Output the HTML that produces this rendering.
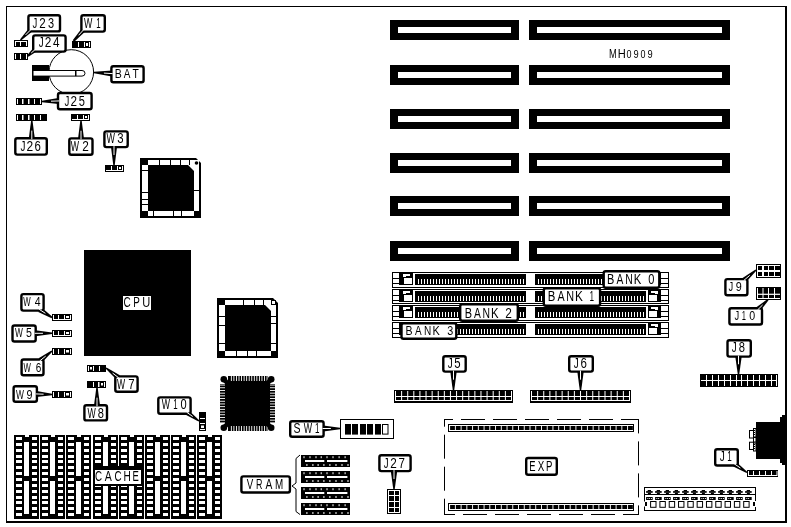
<!DOCTYPE html>
<html><head><meta charset="utf-8"><style>
html,body{margin:0;padding:0;background:#fff;overflow:hidden;width:791px;height:527px;}
svg{display:block;font-family:"Liberation Sans", sans-serif;will-change:transform;}
</style></head><body>
<svg width="791" height="527" viewBox="0 0 791 527">
<rect width="791" height="527" fill="#fff"/>
<rect x="6" y="6" width="781" height="1" fill="#000"/>
<rect x="6" y="6" width="1" height="517" fill="#000"/>
<rect x="785" y="6" width="2" height="517" fill="#000"/>
<rect x="6" y="521" width="781" height="2" fill="#000"/>
<rect x="390" y="20" width="129" height="20" fill="#000"/>
<rect x="398" y="27" width="113" height="6" fill="#fff"/>
<rect x="529" y="20" width="201" height="20" fill="#000"/>
<rect x="537" y="27" width="185" height="6" fill="#fff"/>
<rect x="390" y="65" width="129" height="20" fill="#000"/>
<rect x="398" y="72" width="113" height="6" fill="#fff"/>
<rect x="529" y="65" width="201" height="20" fill="#000"/>
<rect x="537" y="72" width="185" height="6" fill="#fff"/>
<rect x="390" y="109" width="129" height="20" fill="#000"/>
<rect x="398" y="116" width="113" height="6" fill="#fff"/>
<rect x="529" y="109" width="201" height="20" fill="#000"/>
<rect x="537" y="116" width="185" height="6" fill="#fff"/>
<rect x="390" y="153" width="129" height="20" fill="#000"/>
<rect x="398" y="160" width="113" height="6" fill="#fff"/>
<rect x="529" y="153" width="201" height="20" fill="#000"/>
<rect x="537" y="160" width="185" height="6" fill="#fff"/>
<rect x="390" y="196" width="129" height="20" fill="#000"/>
<rect x="398" y="203" width="113" height="6" fill="#fff"/>
<rect x="529" y="196" width="201" height="20" fill="#000"/>
<rect x="537" y="203" width="185" height="6" fill="#fff"/>
<rect x="390" y="241" width="129" height="20" fill="#000"/>
<rect x="398" y="248" width="113" height="6" fill="#fff"/>
<rect x="529" y="241" width="201" height="20" fill="#000"/>
<rect x="537" y="248" width="185" height="6" fill="#fff"/>
<text transform="translate(608.94,57.8) scale(0.7414530639959265,1)" font-size="12.5" fill="#000">M</text><text transform="translate(617.79,57.8) scale(0.8879289315335833,1)" font-size="12.5" fill="#000">H</text>
<text transform="translate(626.549,57.8) scale(0.8716425211123746,1)" font-size="10.32" fill="#000">0</text><text transform="translate(633.464,57.8) scale(0.902048655569783,1)" font-size="10.32" fill="#000">9</text><text transform="translate(640.549,57.8) scale(0.8716425211123746,1)" font-size="10.32" fill="#000">0</text><text transform="translate(647.464,57.8) scale(0.902048655569783,1)" font-size="10.32" fill="#000">9</text>
<circle cx="71.3" cy="72" r="22.3" fill="#fff" stroke="#000" stroke-width="1"/>
<rect x="32" y="65" width="17" height="16" fill="#000"/>
<path d="M33 70.5 H82 A3 2.8 0 0 1 82 76.1 H33 Z" fill="#fff" stroke="#000" stroke-width="1"/>
<rect x="75" y="70.5" width="1.5" height="5.6" fill="#000"/>
<rect x="84" y="250" width="107" height="106" fill="#000"/>
<rect x="123" y="296" width="28" height="14" fill="#fff"/>
<text transform="translate(123.494,307) scale(0.6719710036642847,1)" font-size="14.826" fill="#000">C</text><text transform="translate(133.261,307) scale(0.666319871370472,1)" font-size="14.826" fill="#000">P</text><text transform="translate(142.234,307) scale(0.7493950058061714,1)" font-size="14.826" fill="#000">U</text>
<polygon points="140,158 196,158 201,163 201,218 140,218" fill="#000"/>
<rect x="142" y="160" width="57" height="56" fill="#fff"/>
<polygon points="148,165 188,165 194,171 194,211 148,211" fill="#000"/>
<rect x="140" y="158" width="8" height="7" fill="#000"/>
<rect x="140" y="211" width="8" height="7" fill="#000"/>
<rect x="194" y="211" width="7" height="7" fill="#000"/>
<rect x="159" y="160" width="1" height="5" fill="#000"/>
<rect x="170" y="160" width="1" height="5" fill="#000"/>
<rect x="180" y="160" width="1" height="5" fill="#000"/>
<rect x="189" y="160" width="1" height="5" fill="#000"/>
<rect x="153" y="211" width="1" height="5" fill="#000"/>
<rect x="173" y="211" width="1" height="5" fill="#000"/>
<rect x="181" y="211" width="1" height="5" fill="#000"/>
<rect x="142" y="170" width="6" height="1" fill="#000"/>
<rect x="142" y="192" width="6" height="1" fill="#000"/>
<rect x="142" y="199" width="6" height="1" fill="#000"/>
<rect x="142" y="204" width="6" height="1" fill="#000"/>
<rect x="194" y="190" width="5" height="1" fill="#000"/>
<circle cx="196.5" cy="163" r="1.8" fill="#000"/>
<polygon points="217,298 273,298 278,303 278,358 217,358" fill="#000"/>
<rect x="219" y="300" width="57" height="56" fill="#fff"/>
<polygon points="225,305 265,305 271,311 271,351 225,351" fill="#000"/>
<rect x="217" y="298" width="8" height="7" fill="#000"/>
<rect x="217" y="351" width="8" height="7" fill="#000"/>
<rect x="271" y="351" width="7" height="7" fill="#000"/>
<rect x="243" y="300" width="1" height="5" fill="#000"/>
<rect x="254" y="300" width="1" height="5" fill="#000"/>
<rect x="263" y="300" width="1" height="5" fill="#000"/>
<rect x="236" y="351" width="1" height="5" fill="#000"/>
<rect x="247" y="351" width="1" height="5" fill="#000"/>
<rect x="256" y="351" width="1" height="5" fill="#000"/>
<rect x="219" y="316" width="6" height="1" fill="#000"/>
<rect x="219" y="325" width="6" height="1" fill="#000"/>
<rect x="219" y="343" width="6" height="1" fill="#000"/>
<rect x="271" y="316" width="5" height="1" fill="#000"/>
<rect x="271" y="323" width="5" height="1" fill="#000"/>
<rect x="271" y="343" width="5" height="1" fill="#000"/>
<rect x="271.5" y="300.5" width="4" height="4" fill="none" stroke="#000" stroke-width="1"/>
<rect x="225" y="381" width="45" height="45" fill="#000"/>
<rect x="228" y="376" width="40" height="5" fill="#000"/>
<rect x="228" y="426" width="40" height="5" fill="#000"/>
<rect x="220" y="384" width="5" height="39" fill="#000"/>
<rect x="270" y="384" width="5" height="39" fill="#000"/>
<rect x="230.9" y="376" width="0.9" height="5" fill="#fff"/>
<rect x="230.9" y="426" width="0.9" height="5" fill="#fff"/>
<rect x="233.45" y="376" width="0.9" height="5" fill="#fff"/>
<rect x="233.45" y="426" width="0.9" height="5" fill="#fff"/>
<rect x="236.0" y="376" width="0.9" height="5" fill="#fff"/>
<rect x="236.0" y="426" width="0.9" height="5" fill="#fff"/>
<rect x="238.55" y="376" width="0.9" height="5" fill="#fff"/>
<rect x="238.55" y="426" width="0.9" height="5" fill="#fff"/>
<rect x="241.1" y="376" width="0.9" height="5" fill="#fff"/>
<rect x="241.1" y="426" width="0.9" height="5" fill="#fff"/>
<rect x="243.65" y="376" width="0.9" height="5" fill="#fff"/>
<rect x="243.65" y="426" width="0.9" height="5" fill="#fff"/>
<rect x="246.2" y="376" width="0.9" height="5" fill="#fff"/>
<rect x="246.2" y="426" width="0.9" height="5" fill="#fff"/>
<rect x="248.75" y="376" width="0.9" height="5" fill="#fff"/>
<rect x="248.75" y="426" width="0.9" height="5" fill="#fff"/>
<rect x="251.3" y="376" width="0.9" height="5" fill="#fff"/>
<rect x="251.3" y="426" width="0.9" height="5" fill="#fff"/>
<rect x="253.85" y="376" width="0.9" height="5" fill="#fff"/>
<rect x="253.85" y="426" width="0.9" height="5" fill="#fff"/>
<rect x="256.4" y="376" width="0.9" height="5" fill="#fff"/>
<rect x="256.4" y="426" width="0.9" height="5" fill="#fff"/>
<rect x="258.95" y="376" width="0.9" height="5" fill="#fff"/>
<rect x="258.95" y="426" width="0.9" height="5" fill="#fff"/>
<rect x="261.5" y="376" width="0.9" height="5" fill="#fff"/>
<rect x="261.5" y="426" width="0.9" height="5" fill="#fff"/>
<rect x="264.05" y="376" width="0.9" height="5" fill="#fff"/>
<rect x="264.05" y="426" width="0.9" height="5" fill="#fff"/>
<rect x="266.6" y="376" width="0.9" height="5" fill="#fff"/>
<rect x="266.6" y="426" width="0.9" height="5" fill="#fff"/>
<rect x="220" y="384.6" width="5" height="0.9" fill="#fff"/>
<rect x="270" y="384.6" width="5" height="0.9" fill="#fff"/>
<rect x="220" y="387.3" width="5" height="0.9" fill="#fff"/>
<rect x="270" y="387.3" width="5" height="0.9" fill="#fff"/>
<rect x="220" y="390.0" width="5" height="0.9" fill="#fff"/>
<rect x="270" y="390.0" width="5" height="0.9" fill="#fff"/>
<rect x="220" y="392.7" width="5" height="0.9" fill="#fff"/>
<rect x="270" y="392.7" width="5" height="0.9" fill="#fff"/>
<rect x="220" y="395.4" width="5" height="0.9" fill="#fff"/>
<rect x="270" y="395.4" width="5" height="0.9" fill="#fff"/>
<rect x="220" y="398.1" width="5" height="0.9" fill="#fff"/>
<rect x="270" y="398.1" width="5" height="0.9" fill="#fff"/>
<rect x="220" y="400.8" width="5" height="0.9" fill="#fff"/>
<rect x="270" y="400.8" width="5" height="0.9" fill="#fff"/>
<rect x="220" y="403.5" width="5" height="0.9" fill="#fff"/>
<rect x="270" y="403.5" width="5" height="0.9" fill="#fff"/>
<rect x="220" y="406.2" width="5" height="0.9" fill="#fff"/>
<rect x="270" y="406.2" width="5" height="0.9" fill="#fff"/>
<rect x="220" y="408.9" width="5" height="0.9" fill="#fff"/>
<rect x="270" y="408.9" width="5" height="0.9" fill="#fff"/>
<rect x="220" y="411.6" width="5" height="0.9" fill="#fff"/>
<rect x="270" y="411.6" width="5" height="0.9" fill="#fff"/>
<rect x="220" y="414.3" width="5" height="0.9" fill="#fff"/>
<rect x="270" y="414.3" width="5" height="0.9" fill="#fff"/>
<rect x="220" y="417.0" width="5" height="0.9" fill="#fff"/>
<rect x="270" y="417.0" width="5" height="0.9" fill="#fff"/>
<rect x="220" y="419.7" width="5" height="0.9" fill="#fff"/>
<rect x="270" y="419.7" width="5" height="0.9" fill="#fff"/>
<rect x="220" y="422.4" width="5" height="0.9" fill="#fff"/>
<rect x="270" y="422.4" width="5" height="0.9" fill="#fff"/>
<circle cx="223.8" cy="379.3" r="3.3" fill="#000"/>
<line x1="223.8" y1="379.3" x2="228.8" y2="384.3" stroke="#000" stroke-width="4.5"/>
<circle cx="271.2" cy="379.3" r="3.3" fill="#000"/>
<line x1="271.2" y1="379.3" x2="266.2" y2="384.3" stroke="#000" stroke-width="4.5"/>
<circle cx="223.8" cy="427.7" r="3.3" fill="#000"/>
<line x1="223.8" y1="427.7" x2="228.8" y2="422.7" stroke="#000" stroke-width="4.5"/>
<circle cx="271.2" cy="427.7" r="3.3" fill="#000"/>
<line x1="271.2" y1="427.7" x2="266.2" y2="422.7" stroke="#000" stroke-width="4.5"/>
<rect x="14" y="435" width="25" height="84" fill="#000"/>
<rect x="24" y="442" width="5" height="34" fill="#fff"/>
<rect x="24" y="481" width="5" height="33" fill="#fff"/>
<rect x="25" y="435" width="4" height="2" fill="#fff"/>
<rect x="16" y="437" width="6" height="3" fill="#fff"/>
<rect x="32" y="437" width="5" height="3" fill="#fff"/>
<rect x="16" y="443" width="6" height="3" fill="#fff"/>
<rect x="32" y="443" width="5" height="3" fill="#fff"/>
<rect x="16" y="449" width="6" height="3" fill="#fff"/>
<rect x="32" y="449" width="5" height="3" fill="#fff"/>
<rect x="16" y="455" width="6" height="3" fill="#fff"/>
<rect x="32" y="455" width="5" height="3" fill="#fff"/>
<rect x="16" y="460" width="6" height="3" fill="#fff"/>
<rect x="32" y="460" width="5" height="3" fill="#fff"/>
<rect x="16" y="466" width="6" height="3" fill="#fff"/>
<rect x="32" y="466" width="5" height="3" fill="#fff"/>
<rect x="16" y="472" width="6" height="3" fill="#fff"/>
<rect x="32" y="472" width="5" height="3" fill="#fff"/>
<rect x="16" y="478" width="6" height="3" fill="#fff"/>
<rect x="32" y="478" width="5" height="3" fill="#fff"/>
<rect x="16" y="484" width="6" height="3" fill="#fff"/>
<rect x="32" y="484" width="5" height="3" fill="#fff"/>
<rect x="16" y="490" width="6" height="3" fill="#fff"/>
<rect x="32" y="490" width="5" height="3" fill="#fff"/>
<rect x="16" y="496" width="6" height="3" fill="#fff"/>
<rect x="32" y="496" width="5" height="3" fill="#fff"/>
<rect x="16" y="501" width="6" height="3" fill="#fff"/>
<rect x="32" y="501" width="5" height="3" fill="#fff"/>
<rect x="16" y="507" width="6" height="3" fill="#fff"/>
<rect x="32" y="507" width="5" height="3" fill="#fff"/>
<rect x="16" y="513" width="6" height="3" fill="#fff"/>
<rect x="32" y="513" width="5" height="3" fill="#fff"/>
<rect x="40" y="435" width="25" height="84" fill="#000"/>
<rect x="50" y="442" width="5" height="34" fill="#fff"/>
<rect x="50" y="481" width="5" height="33" fill="#fff"/>
<rect x="51" y="435" width="4" height="2" fill="#fff"/>
<rect x="42" y="437" width="6" height="3" fill="#fff"/>
<rect x="58" y="437" width="5" height="3" fill="#fff"/>
<rect x="42" y="443" width="6" height="3" fill="#fff"/>
<rect x="58" y="443" width="5" height="3" fill="#fff"/>
<rect x="42" y="449" width="6" height="3" fill="#fff"/>
<rect x="58" y="449" width="5" height="3" fill="#fff"/>
<rect x="42" y="455" width="6" height="3" fill="#fff"/>
<rect x="58" y="455" width="5" height="3" fill="#fff"/>
<rect x="42" y="460" width="6" height="3" fill="#fff"/>
<rect x="58" y="460" width="5" height="3" fill="#fff"/>
<rect x="42" y="466" width="6" height="3" fill="#fff"/>
<rect x="58" y="466" width="5" height="3" fill="#fff"/>
<rect x="42" y="472" width="6" height="3" fill="#fff"/>
<rect x="58" y="472" width="5" height="3" fill="#fff"/>
<rect x="42" y="478" width="6" height="3" fill="#fff"/>
<rect x="58" y="478" width="5" height="3" fill="#fff"/>
<rect x="42" y="484" width="6" height="3" fill="#fff"/>
<rect x="58" y="484" width="5" height="3" fill="#fff"/>
<rect x="42" y="490" width="6" height="3" fill="#fff"/>
<rect x="58" y="490" width="5" height="3" fill="#fff"/>
<rect x="42" y="496" width="6" height="3" fill="#fff"/>
<rect x="58" y="496" width="5" height="3" fill="#fff"/>
<rect x="42" y="501" width="6" height="3" fill="#fff"/>
<rect x="58" y="501" width="5" height="3" fill="#fff"/>
<rect x="42" y="507" width="6" height="3" fill="#fff"/>
<rect x="58" y="507" width="5" height="3" fill="#fff"/>
<rect x="42" y="513" width="6" height="3" fill="#fff"/>
<rect x="58" y="513" width="5" height="3" fill="#fff"/>
<rect x="66" y="435" width="25" height="84" fill="#000"/>
<rect x="76" y="442" width="5" height="34" fill="#fff"/>
<rect x="76" y="481" width="5" height="33" fill="#fff"/>
<rect x="77" y="435" width="4" height="2" fill="#fff"/>
<rect x="68" y="437" width="6" height="3" fill="#fff"/>
<rect x="84" y="437" width="5" height="3" fill="#fff"/>
<rect x="68" y="443" width="6" height="3" fill="#fff"/>
<rect x="84" y="443" width="5" height="3" fill="#fff"/>
<rect x="68" y="449" width="6" height="3" fill="#fff"/>
<rect x="84" y="449" width="5" height="3" fill="#fff"/>
<rect x="68" y="455" width="6" height="3" fill="#fff"/>
<rect x="84" y="455" width="5" height="3" fill="#fff"/>
<rect x="68" y="460" width="6" height="3" fill="#fff"/>
<rect x="84" y="460" width="5" height="3" fill="#fff"/>
<rect x="68" y="466" width="6" height="3" fill="#fff"/>
<rect x="84" y="466" width="5" height="3" fill="#fff"/>
<rect x="68" y="472" width="6" height="3" fill="#fff"/>
<rect x="84" y="472" width="5" height="3" fill="#fff"/>
<rect x="68" y="478" width="6" height="3" fill="#fff"/>
<rect x="84" y="478" width="5" height="3" fill="#fff"/>
<rect x="68" y="484" width="6" height="3" fill="#fff"/>
<rect x="84" y="484" width="5" height="3" fill="#fff"/>
<rect x="68" y="490" width="6" height="3" fill="#fff"/>
<rect x="84" y="490" width="5" height="3" fill="#fff"/>
<rect x="68" y="496" width="6" height="3" fill="#fff"/>
<rect x="84" y="496" width="5" height="3" fill="#fff"/>
<rect x="68" y="501" width="6" height="3" fill="#fff"/>
<rect x="84" y="501" width="5" height="3" fill="#fff"/>
<rect x="68" y="507" width="6" height="3" fill="#fff"/>
<rect x="84" y="507" width="5" height="3" fill="#fff"/>
<rect x="68" y="513" width="6" height="3" fill="#fff"/>
<rect x="84" y="513" width="5" height="3" fill="#fff"/>
<rect x="93" y="435" width="25" height="84" fill="#000"/>
<rect x="103" y="442" width="5" height="34" fill="#fff"/>
<rect x="103" y="481" width="5" height="33" fill="#fff"/>
<rect x="104" y="435" width="4" height="2" fill="#fff"/>
<rect x="95" y="437" width="6" height="3" fill="#fff"/>
<rect x="111" y="437" width="5" height="3" fill="#fff"/>
<rect x="95" y="443" width="6" height="3" fill="#fff"/>
<rect x="111" y="443" width="5" height="3" fill="#fff"/>
<rect x="95" y="449" width="6" height="3" fill="#fff"/>
<rect x="111" y="449" width="5" height="3" fill="#fff"/>
<rect x="95" y="455" width="6" height="3" fill="#fff"/>
<rect x="111" y="455" width="5" height="3" fill="#fff"/>
<rect x="95" y="460" width="6" height="3" fill="#fff"/>
<rect x="111" y="460" width="5" height="3" fill="#fff"/>
<rect x="95" y="466" width="6" height="3" fill="#fff"/>
<rect x="111" y="466" width="5" height="3" fill="#fff"/>
<rect x="95" y="472" width="6" height="3" fill="#fff"/>
<rect x="111" y="472" width="5" height="3" fill="#fff"/>
<rect x="95" y="478" width="6" height="3" fill="#fff"/>
<rect x="111" y="478" width="5" height="3" fill="#fff"/>
<rect x="95" y="484" width="6" height="3" fill="#fff"/>
<rect x="111" y="484" width="5" height="3" fill="#fff"/>
<rect x="95" y="490" width="6" height="3" fill="#fff"/>
<rect x="111" y="490" width="5" height="3" fill="#fff"/>
<rect x="95" y="496" width="6" height="3" fill="#fff"/>
<rect x="111" y="496" width="5" height="3" fill="#fff"/>
<rect x="95" y="501" width="6" height="3" fill="#fff"/>
<rect x="111" y="501" width="5" height="3" fill="#fff"/>
<rect x="95" y="507" width="6" height="3" fill="#fff"/>
<rect x="111" y="507" width="5" height="3" fill="#fff"/>
<rect x="95" y="513" width="6" height="3" fill="#fff"/>
<rect x="111" y="513" width="5" height="3" fill="#fff"/>
<rect x="119" y="435" width="25" height="84" fill="#000"/>
<rect x="129" y="442" width="5" height="34" fill="#fff"/>
<rect x="129" y="481" width="5" height="33" fill="#fff"/>
<rect x="130" y="435" width="4" height="2" fill="#fff"/>
<rect x="121" y="437" width="6" height="3" fill="#fff"/>
<rect x="137" y="437" width="5" height="3" fill="#fff"/>
<rect x="121" y="443" width="6" height="3" fill="#fff"/>
<rect x="137" y="443" width="5" height="3" fill="#fff"/>
<rect x="121" y="449" width="6" height="3" fill="#fff"/>
<rect x="137" y="449" width="5" height="3" fill="#fff"/>
<rect x="121" y="455" width="6" height="3" fill="#fff"/>
<rect x="137" y="455" width="5" height="3" fill="#fff"/>
<rect x="121" y="460" width="6" height="3" fill="#fff"/>
<rect x="137" y="460" width="5" height="3" fill="#fff"/>
<rect x="121" y="466" width="6" height="3" fill="#fff"/>
<rect x="137" y="466" width="5" height="3" fill="#fff"/>
<rect x="121" y="472" width="6" height="3" fill="#fff"/>
<rect x="137" y="472" width="5" height="3" fill="#fff"/>
<rect x="121" y="478" width="6" height="3" fill="#fff"/>
<rect x="137" y="478" width="5" height="3" fill="#fff"/>
<rect x="121" y="484" width="6" height="3" fill="#fff"/>
<rect x="137" y="484" width="5" height="3" fill="#fff"/>
<rect x="121" y="490" width="6" height="3" fill="#fff"/>
<rect x="137" y="490" width="5" height="3" fill="#fff"/>
<rect x="121" y="496" width="6" height="3" fill="#fff"/>
<rect x="137" y="496" width="5" height="3" fill="#fff"/>
<rect x="121" y="501" width="6" height="3" fill="#fff"/>
<rect x="137" y="501" width="5" height="3" fill="#fff"/>
<rect x="121" y="507" width="6" height="3" fill="#fff"/>
<rect x="137" y="507" width="5" height="3" fill="#fff"/>
<rect x="121" y="513" width="6" height="3" fill="#fff"/>
<rect x="137" y="513" width="5" height="3" fill="#fff"/>
<rect x="145" y="435" width="25" height="84" fill="#000"/>
<rect x="155" y="442" width="5" height="34" fill="#fff"/>
<rect x="155" y="481" width="5" height="33" fill="#fff"/>
<rect x="156" y="435" width="4" height="2" fill="#fff"/>
<rect x="147" y="437" width="6" height="3" fill="#fff"/>
<rect x="163" y="437" width="5" height="3" fill="#fff"/>
<rect x="147" y="443" width="6" height="3" fill="#fff"/>
<rect x="163" y="443" width="5" height="3" fill="#fff"/>
<rect x="147" y="449" width="6" height="3" fill="#fff"/>
<rect x="163" y="449" width="5" height="3" fill="#fff"/>
<rect x="147" y="455" width="6" height="3" fill="#fff"/>
<rect x="163" y="455" width="5" height="3" fill="#fff"/>
<rect x="147" y="460" width="6" height="3" fill="#fff"/>
<rect x="163" y="460" width="5" height="3" fill="#fff"/>
<rect x="147" y="466" width="6" height="3" fill="#fff"/>
<rect x="163" y="466" width="5" height="3" fill="#fff"/>
<rect x="147" y="472" width="6" height="3" fill="#fff"/>
<rect x="163" y="472" width="5" height="3" fill="#fff"/>
<rect x="147" y="478" width="6" height="3" fill="#fff"/>
<rect x="163" y="478" width="5" height="3" fill="#fff"/>
<rect x="147" y="484" width="6" height="3" fill="#fff"/>
<rect x="163" y="484" width="5" height="3" fill="#fff"/>
<rect x="147" y="490" width="6" height="3" fill="#fff"/>
<rect x="163" y="490" width="5" height="3" fill="#fff"/>
<rect x="147" y="496" width="6" height="3" fill="#fff"/>
<rect x="163" y="496" width="5" height="3" fill="#fff"/>
<rect x="147" y="501" width="6" height="3" fill="#fff"/>
<rect x="163" y="501" width="5" height="3" fill="#fff"/>
<rect x="147" y="507" width="6" height="3" fill="#fff"/>
<rect x="163" y="507" width="5" height="3" fill="#fff"/>
<rect x="147" y="513" width="6" height="3" fill="#fff"/>
<rect x="163" y="513" width="5" height="3" fill="#fff"/>
<rect x="171" y="435" width="25" height="84" fill="#000"/>
<rect x="181" y="442" width="5" height="34" fill="#fff"/>
<rect x="181" y="481" width="5" height="33" fill="#fff"/>
<rect x="182" y="435" width="4" height="2" fill="#fff"/>
<rect x="173" y="437" width="6" height="3" fill="#fff"/>
<rect x="189" y="437" width="5" height="3" fill="#fff"/>
<rect x="173" y="443" width="6" height="3" fill="#fff"/>
<rect x="189" y="443" width="5" height="3" fill="#fff"/>
<rect x="173" y="449" width="6" height="3" fill="#fff"/>
<rect x="189" y="449" width="5" height="3" fill="#fff"/>
<rect x="173" y="455" width="6" height="3" fill="#fff"/>
<rect x="189" y="455" width="5" height="3" fill="#fff"/>
<rect x="173" y="460" width="6" height="3" fill="#fff"/>
<rect x="189" y="460" width="5" height="3" fill="#fff"/>
<rect x="173" y="466" width="6" height="3" fill="#fff"/>
<rect x="189" y="466" width="5" height="3" fill="#fff"/>
<rect x="173" y="472" width="6" height="3" fill="#fff"/>
<rect x="189" y="472" width="5" height="3" fill="#fff"/>
<rect x="173" y="478" width="6" height="3" fill="#fff"/>
<rect x="189" y="478" width="5" height="3" fill="#fff"/>
<rect x="173" y="484" width="6" height="3" fill="#fff"/>
<rect x="189" y="484" width="5" height="3" fill="#fff"/>
<rect x="173" y="490" width="6" height="3" fill="#fff"/>
<rect x="189" y="490" width="5" height="3" fill="#fff"/>
<rect x="173" y="496" width="6" height="3" fill="#fff"/>
<rect x="189" y="496" width="5" height="3" fill="#fff"/>
<rect x="173" y="501" width="6" height="3" fill="#fff"/>
<rect x="189" y="501" width="5" height="3" fill="#fff"/>
<rect x="173" y="507" width="6" height="3" fill="#fff"/>
<rect x="189" y="507" width="5" height="3" fill="#fff"/>
<rect x="173" y="513" width="6" height="3" fill="#fff"/>
<rect x="189" y="513" width="5" height="3" fill="#fff"/>
<rect x="197" y="435" width="25" height="84" fill="#000"/>
<rect x="207" y="442" width="5" height="34" fill="#fff"/>
<rect x="207" y="481" width="5" height="33" fill="#fff"/>
<rect x="208" y="435" width="4" height="2" fill="#fff"/>
<rect x="199" y="437" width="6" height="3" fill="#fff"/>
<rect x="215" y="437" width="5" height="3" fill="#fff"/>
<rect x="199" y="443" width="6" height="3" fill="#fff"/>
<rect x="215" y="443" width="5" height="3" fill="#fff"/>
<rect x="199" y="449" width="6" height="3" fill="#fff"/>
<rect x="215" y="449" width="5" height="3" fill="#fff"/>
<rect x="199" y="455" width="6" height="3" fill="#fff"/>
<rect x="215" y="455" width="5" height="3" fill="#fff"/>
<rect x="199" y="460" width="6" height="3" fill="#fff"/>
<rect x="215" y="460" width="5" height="3" fill="#fff"/>
<rect x="199" y="466" width="6" height="3" fill="#fff"/>
<rect x="215" y="466" width="5" height="3" fill="#fff"/>
<rect x="199" y="472" width="6" height="3" fill="#fff"/>
<rect x="215" y="472" width="5" height="3" fill="#fff"/>
<rect x="199" y="478" width="6" height="3" fill="#fff"/>
<rect x="215" y="478" width="5" height="3" fill="#fff"/>
<rect x="199" y="484" width="6" height="3" fill="#fff"/>
<rect x="215" y="484" width="5" height="3" fill="#fff"/>
<rect x="199" y="490" width="6" height="3" fill="#fff"/>
<rect x="215" y="490" width="5" height="3" fill="#fff"/>
<rect x="199" y="496" width="6" height="3" fill="#fff"/>
<rect x="215" y="496" width="5" height="3" fill="#fff"/>
<rect x="199" y="501" width="6" height="3" fill="#fff"/>
<rect x="215" y="501" width="5" height="3" fill="#fff"/>
<rect x="199" y="507" width="6" height="3" fill="#fff"/>
<rect x="215" y="507" width="5" height="3" fill="#fff"/>
<rect x="199" y="513" width="6" height="3" fill="#fff"/>
<rect x="215" y="513" width="5" height="3" fill="#fff"/>
<rect x="93" y="466" width="50" height="20" fill="#000"/>
<rect x="95" y="470" width="46" height="14" fill="#fff"/>
<text transform="translate(94.904,481) scale(0.6719710036642849,1)" font-size="14.535" fill="#000">C</text><text transform="translate(104.788,481) scale(0.7273583043590485,1)" font-size="14.535" fill="#000">A</text><text transform="translate(114.547,481) scale(0.6719710036642849,1)" font-size="14.535" fill="#000">C</text><text transform="translate(123.619,481) scale(0.6983544805709755,1)" font-size="14.535" fill="#000">H</text><text transform="translate(132.565,481) scale(0.6543141079223554,1)" font-size="14.535" fill="#000">E</text>
<rect x="392" y="272" width="277" height="1" fill="#000"/>
<rect x="392" y="287" width="277" height="1" fill="#000"/>
<rect x="392" y="272" width="1" height="16" fill="#000"/>
<rect x="668" y="272" width="1" height="16" fill="#000"/>
<rect x="392" y="278" width="7" height="1" fill="#000"/>
<rect x="392" y="283" width="7" height="1" fill="#000"/>
<rect x="661" y="278" width="7" height="1" fill="#000"/>
<rect x="661" y="283" width="7" height="1" fill="#000"/>
<rect x="399" y="273" width="14" height="12" fill="#000"/>
<rect x="403" y="274" width="7" height="2" fill="#fff"/>
<rect x="403" y="276" width="3" height="1" fill="#fff"/>
<rect x="404" y="278" width="8" height="6" fill="#fff"/>
<rect x="648" y="273" width="13" height="12" fill="#000"/>
<rect x="651" y="274" width="7" height="2" fill="#fff"/>
<rect x="655" y="276" width="3" height="1" fill="#fff"/>
<rect x="649" y="278" width="8" height="6" fill="#fff"/>
<rect x="415" y="274" width="111" height="11" fill="#000"/>
<rect x="535" y="274" width="111" height="11" fill="#000"/>
<rect x="418" y="279" width="1" height="5" fill="#fff"/>
<rect x="421" y="279" width="1" height="5" fill="#fff"/>
<rect x="424" y="279" width="1" height="5" fill="#fff"/>
<rect x="427" y="279" width="1" height="5" fill="#fff"/>
<rect x="430" y="279" width="1" height="5" fill="#fff"/>
<rect x="433" y="279" width="1" height="5" fill="#fff"/>
<rect x="436" y="279" width="1" height="5" fill="#fff"/>
<rect x="439" y="279" width="1" height="5" fill="#fff"/>
<rect x="442" y="279" width="1" height="5" fill="#fff"/>
<rect x="445" y="279" width="1" height="5" fill="#fff"/>
<rect x="448" y="279" width="1" height="5" fill="#fff"/>
<rect x="451" y="279" width="1" height="5" fill="#fff"/>
<rect x="454" y="279" width="1" height="5" fill="#fff"/>
<rect x="457" y="279" width="1" height="5" fill="#fff"/>
<rect x="460" y="279" width="1" height="5" fill="#fff"/>
<rect x="463" y="279" width="1" height="5" fill="#fff"/>
<rect x="466" y="279" width="1" height="5" fill="#fff"/>
<rect x="469" y="279" width="1" height="5" fill="#fff"/>
<rect x="472" y="279" width="1" height="5" fill="#fff"/>
<rect x="475" y="279" width="1" height="5" fill="#fff"/>
<rect x="478" y="279" width="1" height="5" fill="#fff"/>
<rect x="481" y="279" width="1" height="5" fill="#fff"/>
<rect x="484" y="279" width="1" height="5" fill="#fff"/>
<rect x="487" y="279" width="1" height="5" fill="#fff"/>
<rect x="490" y="279" width="1" height="5" fill="#fff"/>
<rect x="493" y="279" width="1" height="5" fill="#fff"/>
<rect x="496" y="279" width="1" height="5" fill="#fff"/>
<rect x="499" y="279" width="1" height="5" fill="#fff"/>
<rect x="502" y="279" width="1" height="5" fill="#fff"/>
<rect x="505" y="279" width="1" height="5" fill="#fff"/>
<rect x="508" y="279" width="1" height="5" fill="#fff"/>
<rect x="511" y="279" width="1" height="5" fill="#fff"/>
<rect x="514" y="279" width="1" height="5" fill="#fff"/>
<rect x="517" y="279" width="1" height="5" fill="#fff"/>
<rect x="520" y="279" width="1" height="5" fill="#fff"/>
<rect x="523" y="279" width="1" height="5" fill="#fff"/>
<rect x="538" y="279" width="1" height="5" fill="#fff"/>
<rect x="541" y="279" width="1" height="5" fill="#fff"/>
<rect x="544" y="279" width="1" height="5" fill="#fff"/>
<rect x="547" y="279" width="1" height="5" fill="#fff"/>
<rect x="550" y="279" width="1" height="5" fill="#fff"/>
<rect x="553" y="279" width="1" height="5" fill="#fff"/>
<rect x="556" y="279" width="1" height="5" fill="#fff"/>
<rect x="559" y="279" width="1" height="5" fill="#fff"/>
<rect x="562" y="279" width="1" height="5" fill="#fff"/>
<rect x="565" y="279" width="1" height="5" fill="#fff"/>
<rect x="568" y="279" width="1" height="5" fill="#fff"/>
<rect x="571" y="279" width="1" height="5" fill="#fff"/>
<rect x="574" y="279" width="1" height="5" fill="#fff"/>
<rect x="577" y="279" width="1" height="5" fill="#fff"/>
<rect x="580" y="279" width="1" height="5" fill="#fff"/>
<rect x="583" y="279" width="1" height="5" fill="#fff"/>
<rect x="586" y="279" width="1" height="5" fill="#fff"/>
<rect x="589" y="279" width="1" height="5" fill="#fff"/>
<rect x="592" y="279" width="1" height="5" fill="#fff"/>
<rect x="595" y="279" width="1" height="5" fill="#fff"/>
<rect x="598" y="279" width="1" height="5" fill="#fff"/>
<rect x="601" y="279" width="1" height="5" fill="#fff"/>
<rect x="604" y="279" width="1" height="5" fill="#fff"/>
<rect x="607" y="279" width="1" height="5" fill="#fff"/>
<rect x="610" y="279" width="1" height="5" fill="#fff"/>
<rect x="613" y="279" width="1" height="5" fill="#fff"/>
<rect x="616" y="279" width="1" height="5" fill="#fff"/>
<rect x="619" y="279" width="1" height="5" fill="#fff"/>
<rect x="622" y="279" width="1" height="5" fill="#fff"/>
<rect x="625" y="279" width="1" height="5" fill="#fff"/>
<rect x="628" y="279" width="1" height="5" fill="#fff"/>
<rect x="631" y="279" width="1" height="5" fill="#fff"/>
<rect x="634" y="279" width="1" height="5" fill="#fff"/>
<rect x="637" y="279" width="1" height="5" fill="#fff"/>
<rect x="640" y="279" width="1" height="5" fill="#fff"/>
<rect x="643" y="279" width="1" height="5" fill="#fff"/>
<rect x="392" y="289" width="277" height="1" fill="#000"/>
<rect x="392" y="303" width="277" height="1" fill="#000"/>
<rect x="392" y="289" width="1" height="15" fill="#000"/>
<rect x="668" y="289" width="1" height="15" fill="#000"/>
<rect x="392" y="295" width="7" height="1" fill="#000"/>
<rect x="392" y="300" width="7" height="1" fill="#000"/>
<rect x="661" y="295" width="7" height="1" fill="#000"/>
<rect x="661" y="300" width="7" height="1" fill="#000"/>
<rect x="399" y="290" width="14" height="12" fill="#000"/>
<rect x="403" y="291" width="7" height="2" fill="#fff"/>
<rect x="403" y="293" width="3" height="1" fill="#fff"/>
<rect x="404" y="295" width="8" height="6" fill="#fff"/>
<rect x="648" y="290" width="13" height="12" fill="#000"/>
<rect x="651" y="291" width="7" height="2" fill="#fff"/>
<rect x="655" y="293" width="3" height="1" fill="#fff"/>
<rect x="649" y="295" width="8" height="6" fill="#fff"/>
<rect x="415" y="291" width="111" height="11" fill="#000"/>
<rect x="535" y="291" width="111" height="11" fill="#000"/>
<rect x="418" y="296" width="1" height="5" fill="#fff"/>
<rect x="421" y="296" width="1" height="5" fill="#fff"/>
<rect x="424" y="296" width="1" height="5" fill="#fff"/>
<rect x="427" y="296" width="1" height="5" fill="#fff"/>
<rect x="430" y="296" width="1" height="5" fill="#fff"/>
<rect x="433" y="296" width="1" height="5" fill="#fff"/>
<rect x="436" y="296" width="1" height="5" fill="#fff"/>
<rect x="439" y="296" width="1" height="5" fill="#fff"/>
<rect x="442" y="296" width="1" height="5" fill="#fff"/>
<rect x="445" y="296" width="1" height="5" fill="#fff"/>
<rect x="448" y="296" width="1" height="5" fill="#fff"/>
<rect x="451" y="296" width="1" height="5" fill="#fff"/>
<rect x="454" y="296" width="1" height="5" fill="#fff"/>
<rect x="457" y="296" width="1" height="5" fill="#fff"/>
<rect x="460" y="296" width="1" height="5" fill="#fff"/>
<rect x="463" y="296" width="1" height="5" fill="#fff"/>
<rect x="466" y="296" width="1" height="5" fill="#fff"/>
<rect x="469" y="296" width="1" height="5" fill="#fff"/>
<rect x="472" y="296" width="1" height="5" fill="#fff"/>
<rect x="475" y="296" width="1" height="5" fill="#fff"/>
<rect x="478" y="296" width="1" height="5" fill="#fff"/>
<rect x="481" y="296" width="1" height="5" fill="#fff"/>
<rect x="484" y="296" width="1" height="5" fill="#fff"/>
<rect x="487" y="296" width="1" height="5" fill="#fff"/>
<rect x="490" y="296" width="1" height="5" fill="#fff"/>
<rect x="493" y="296" width="1" height="5" fill="#fff"/>
<rect x="496" y="296" width="1" height="5" fill="#fff"/>
<rect x="499" y="296" width="1" height="5" fill="#fff"/>
<rect x="502" y="296" width="1" height="5" fill="#fff"/>
<rect x="505" y="296" width="1" height="5" fill="#fff"/>
<rect x="508" y="296" width="1" height="5" fill="#fff"/>
<rect x="511" y="296" width="1" height="5" fill="#fff"/>
<rect x="514" y="296" width="1" height="5" fill="#fff"/>
<rect x="517" y="296" width="1" height="5" fill="#fff"/>
<rect x="520" y="296" width="1" height="5" fill="#fff"/>
<rect x="523" y="296" width="1" height="5" fill="#fff"/>
<rect x="538" y="296" width="1" height="5" fill="#fff"/>
<rect x="541" y="296" width="1" height="5" fill="#fff"/>
<rect x="544" y="296" width="1" height="5" fill="#fff"/>
<rect x="547" y="296" width="1" height="5" fill="#fff"/>
<rect x="550" y="296" width="1" height="5" fill="#fff"/>
<rect x="553" y="296" width="1" height="5" fill="#fff"/>
<rect x="556" y="296" width="1" height="5" fill="#fff"/>
<rect x="559" y="296" width="1" height="5" fill="#fff"/>
<rect x="562" y="296" width="1" height="5" fill="#fff"/>
<rect x="565" y="296" width="1" height="5" fill="#fff"/>
<rect x="568" y="296" width="1" height="5" fill="#fff"/>
<rect x="571" y="296" width="1" height="5" fill="#fff"/>
<rect x="574" y="296" width="1" height="5" fill="#fff"/>
<rect x="577" y="296" width="1" height="5" fill="#fff"/>
<rect x="580" y="296" width="1" height="5" fill="#fff"/>
<rect x="583" y="296" width="1" height="5" fill="#fff"/>
<rect x="586" y="296" width="1" height="5" fill="#fff"/>
<rect x="589" y="296" width="1" height="5" fill="#fff"/>
<rect x="592" y="296" width="1" height="5" fill="#fff"/>
<rect x="595" y="296" width="1" height="5" fill="#fff"/>
<rect x="598" y="296" width="1" height="5" fill="#fff"/>
<rect x="601" y="296" width="1" height="5" fill="#fff"/>
<rect x="604" y="296" width="1" height="5" fill="#fff"/>
<rect x="607" y="296" width="1" height="5" fill="#fff"/>
<rect x="610" y="296" width="1" height="5" fill="#fff"/>
<rect x="613" y="296" width="1" height="5" fill="#fff"/>
<rect x="616" y="296" width="1" height="5" fill="#fff"/>
<rect x="619" y="296" width="1" height="5" fill="#fff"/>
<rect x="622" y="296" width="1" height="5" fill="#fff"/>
<rect x="625" y="296" width="1" height="5" fill="#fff"/>
<rect x="628" y="296" width="1" height="5" fill="#fff"/>
<rect x="631" y="296" width="1" height="5" fill="#fff"/>
<rect x="634" y="296" width="1" height="5" fill="#fff"/>
<rect x="637" y="296" width="1" height="5" fill="#fff"/>
<rect x="640" y="296" width="1" height="5" fill="#fff"/>
<rect x="643" y="296" width="1" height="5" fill="#fff"/>
<rect x="392" y="305" width="277" height="1" fill="#000"/>
<rect x="392" y="320" width="277" height="1" fill="#000"/>
<rect x="392" y="305" width="1" height="16" fill="#000"/>
<rect x="668" y="305" width="1" height="16" fill="#000"/>
<rect x="392" y="311" width="7" height="1" fill="#000"/>
<rect x="392" y="316" width="7" height="1" fill="#000"/>
<rect x="661" y="311" width="7" height="1" fill="#000"/>
<rect x="661" y="316" width="7" height="1" fill="#000"/>
<rect x="399" y="306" width="14" height="12" fill="#000"/>
<rect x="403" y="307" width="7" height="2" fill="#fff"/>
<rect x="403" y="309" width="3" height="1" fill="#fff"/>
<rect x="404" y="311" width="8" height="6" fill="#fff"/>
<rect x="648" y="306" width="13" height="12" fill="#000"/>
<rect x="651" y="307" width="7" height="2" fill="#fff"/>
<rect x="655" y="309" width="3" height="1" fill="#fff"/>
<rect x="649" y="311" width="8" height="6" fill="#fff"/>
<rect x="415" y="307" width="111" height="11" fill="#000"/>
<rect x="535" y="307" width="111" height="11" fill="#000"/>
<rect x="418" y="312" width="1" height="5" fill="#fff"/>
<rect x="421" y="312" width="1" height="5" fill="#fff"/>
<rect x="424" y="312" width="1" height="5" fill="#fff"/>
<rect x="427" y="312" width="1" height="5" fill="#fff"/>
<rect x="430" y="312" width="1" height="5" fill="#fff"/>
<rect x="433" y="312" width="1" height="5" fill="#fff"/>
<rect x="436" y="312" width="1" height="5" fill="#fff"/>
<rect x="439" y="312" width="1" height="5" fill="#fff"/>
<rect x="442" y="312" width="1" height="5" fill="#fff"/>
<rect x="445" y="312" width="1" height="5" fill="#fff"/>
<rect x="448" y="312" width="1" height="5" fill="#fff"/>
<rect x="451" y="312" width="1" height="5" fill="#fff"/>
<rect x="454" y="312" width="1" height="5" fill="#fff"/>
<rect x="457" y="312" width="1" height="5" fill="#fff"/>
<rect x="460" y="312" width="1" height="5" fill="#fff"/>
<rect x="463" y="312" width="1" height="5" fill="#fff"/>
<rect x="466" y="312" width="1" height="5" fill="#fff"/>
<rect x="469" y="312" width="1" height="5" fill="#fff"/>
<rect x="472" y="312" width="1" height="5" fill="#fff"/>
<rect x="475" y="312" width="1" height="5" fill="#fff"/>
<rect x="478" y="312" width="1" height="5" fill="#fff"/>
<rect x="481" y="312" width="1" height="5" fill="#fff"/>
<rect x="484" y="312" width="1" height="5" fill="#fff"/>
<rect x="487" y="312" width="1" height="5" fill="#fff"/>
<rect x="490" y="312" width="1" height="5" fill="#fff"/>
<rect x="493" y="312" width="1" height="5" fill="#fff"/>
<rect x="496" y="312" width="1" height="5" fill="#fff"/>
<rect x="499" y="312" width="1" height="5" fill="#fff"/>
<rect x="502" y="312" width="1" height="5" fill="#fff"/>
<rect x="505" y="312" width="1" height="5" fill="#fff"/>
<rect x="508" y="312" width="1" height="5" fill="#fff"/>
<rect x="511" y="312" width="1" height="5" fill="#fff"/>
<rect x="514" y="312" width="1" height="5" fill="#fff"/>
<rect x="517" y="312" width="1" height="5" fill="#fff"/>
<rect x="520" y="312" width="1" height="5" fill="#fff"/>
<rect x="523" y="312" width="1" height="5" fill="#fff"/>
<rect x="538" y="312" width="1" height="5" fill="#fff"/>
<rect x="541" y="312" width="1" height="5" fill="#fff"/>
<rect x="544" y="312" width="1" height="5" fill="#fff"/>
<rect x="547" y="312" width="1" height="5" fill="#fff"/>
<rect x="550" y="312" width="1" height="5" fill="#fff"/>
<rect x="553" y="312" width="1" height="5" fill="#fff"/>
<rect x="556" y="312" width="1" height="5" fill="#fff"/>
<rect x="559" y="312" width="1" height="5" fill="#fff"/>
<rect x="562" y="312" width="1" height="5" fill="#fff"/>
<rect x="565" y="312" width="1" height="5" fill="#fff"/>
<rect x="568" y="312" width="1" height="5" fill="#fff"/>
<rect x="571" y="312" width="1" height="5" fill="#fff"/>
<rect x="574" y="312" width="1" height="5" fill="#fff"/>
<rect x="577" y="312" width="1" height="5" fill="#fff"/>
<rect x="580" y="312" width="1" height="5" fill="#fff"/>
<rect x="583" y="312" width="1" height="5" fill="#fff"/>
<rect x="586" y="312" width="1" height="5" fill="#fff"/>
<rect x="589" y="312" width="1" height="5" fill="#fff"/>
<rect x="592" y="312" width="1" height="5" fill="#fff"/>
<rect x="595" y="312" width="1" height="5" fill="#fff"/>
<rect x="598" y="312" width="1" height="5" fill="#fff"/>
<rect x="601" y="312" width="1" height="5" fill="#fff"/>
<rect x="604" y="312" width="1" height="5" fill="#fff"/>
<rect x="607" y="312" width="1" height="5" fill="#fff"/>
<rect x="610" y="312" width="1" height="5" fill="#fff"/>
<rect x="613" y="312" width="1" height="5" fill="#fff"/>
<rect x="616" y="312" width="1" height="5" fill="#fff"/>
<rect x="619" y="312" width="1" height="5" fill="#fff"/>
<rect x="622" y="312" width="1" height="5" fill="#fff"/>
<rect x="625" y="312" width="1" height="5" fill="#fff"/>
<rect x="628" y="312" width="1" height="5" fill="#fff"/>
<rect x="631" y="312" width="1" height="5" fill="#fff"/>
<rect x="634" y="312" width="1" height="5" fill="#fff"/>
<rect x="637" y="312" width="1" height="5" fill="#fff"/>
<rect x="640" y="312" width="1" height="5" fill="#fff"/>
<rect x="643" y="312" width="1" height="5" fill="#fff"/>
<rect x="392" y="322" width="277" height="1" fill="#000"/>
<rect x="392" y="337" width="277" height="1" fill="#000"/>
<rect x="392" y="322" width="1" height="16" fill="#000"/>
<rect x="668" y="322" width="1" height="16" fill="#000"/>
<rect x="392" y="328" width="7" height="1" fill="#000"/>
<rect x="392" y="333" width="7" height="1" fill="#000"/>
<rect x="661" y="328" width="7" height="1" fill="#000"/>
<rect x="661" y="333" width="7" height="1" fill="#000"/>
<rect x="399" y="323" width="14" height="12" fill="#000"/>
<rect x="403" y="324" width="7" height="2" fill="#fff"/>
<rect x="403" y="326" width="3" height="1" fill="#fff"/>
<rect x="404" y="328" width="8" height="6" fill="#fff"/>
<rect x="648" y="323" width="13" height="12" fill="#000"/>
<rect x="651" y="324" width="7" height="2" fill="#fff"/>
<rect x="655" y="326" width="3" height="1" fill="#fff"/>
<rect x="649" y="328" width="8" height="6" fill="#fff"/>
<rect x="415" y="324" width="111" height="11" fill="#000"/>
<rect x="535" y="324" width="111" height="11" fill="#000"/>
<rect x="418" y="329" width="1" height="5" fill="#fff"/>
<rect x="421" y="329" width="1" height="5" fill="#fff"/>
<rect x="424" y="329" width="1" height="5" fill="#fff"/>
<rect x="427" y="329" width="1" height="5" fill="#fff"/>
<rect x="430" y="329" width="1" height="5" fill="#fff"/>
<rect x="433" y="329" width="1" height="5" fill="#fff"/>
<rect x="436" y="329" width="1" height="5" fill="#fff"/>
<rect x="439" y="329" width="1" height="5" fill="#fff"/>
<rect x="442" y="329" width="1" height="5" fill="#fff"/>
<rect x="445" y="329" width="1" height="5" fill="#fff"/>
<rect x="448" y="329" width="1" height="5" fill="#fff"/>
<rect x="451" y="329" width="1" height="5" fill="#fff"/>
<rect x="454" y="329" width="1" height="5" fill="#fff"/>
<rect x="457" y="329" width="1" height="5" fill="#fff"/>
<rect x="460" y="329" width="1" height="5" fill="#fff"/>
<rect x="463" y="329" width="1" height="5" fill="#fff"/>
<rect x="466" y="329" width="1" height="5" fill="#fff"/>
<rect x="469" y="329" width="1" height="5" fill="#fff"/>
<rect x="472" y="329" width="1" height="5" fill="#fff"/>
<rect x="475" y="329" width="1" height="5" fill="#fff"/>
<rect x="478" y="329" width="1" height="5" fill="#fff"/>
<rect x="481" y="329" width="1" height="5" fill="#fff"/>
<rect x="484" y="329" width="1" height="5" fill="#fff"/>
<rect x="487" y="329" width="1" height="5" fill="#fff"/>
<rect x="490" y="329" width="1" height="5" fill="#fff"/>
<rect x="493" y="329" width="1" height="5" fill="#fff"/>
<rect x="496" y="329" width="1" height="5" fill="#fff"/>
<rect x="499" y="329" width="1" height="5" fill="#fff"/>
<rect x="502" y="329" width="1" height="5" fill="#fff"/>
<rect x="505" y="329" width="1" height="5" fill="#fff"/>
<rect x="508" y="329" width="1" height="5" fill="#fff"/>
<rect x="511" y="329" width="1" height="5" fill="#fff"/>
<rect x="514" y="329" width="1" height="5" fill="#fff"/>
<rect x="517" y="329" width="1" height="5" fill="#fff"/>
<rect x="520" y="329" width="1" height="5" fill="#fff"/>
<rect x="523" y="329" width="1" height="5" fill="#fff"/>
<rect x="538" y="329" width="1" height="5" fill="#fff"/>
<rect x="541" y="329" width="1" height="5" fill="#fff"/>
<rect x="544" y="329" width="1" height="5" fill="#fff"/>
<rect x="547" y="329" width="1" height="5" fill="#fff"/>
<rect x="550" y="329" width="1" height="5" fill="#fff"/>
<rect x="553" y="329" width="1" height="5" fill="#fff"/>
<rect x="556" y="329" width="1" height="5" fill="#fff"/>
<rect x="559" y="329" width="1" height="5" fill="#fff"/>
<rect x="562" y="329" width="1" height="5" fill="#fff"/>
<rect x="565" y="329" width="1" height="5" fill="#fff"/>
<rect x="568" y="329" width="1" height="5" fill="#fff"/>
<rect x="571" y="329" width="1" height="5" fill="#fff"/>
<rect x="574" y="329" width="1" height="5" fill="#fff"/>
<rect x="577" y="329" width="1" height="5" fill="#fff"/>
<rect x="580" y="329" width="1" height="5" fill="#fff"/>
<rect x="583" y="329" width="1" height="5" fill="#fff"/>
<rect x="586" y="329" width="1" height="5" fill="#fff"/>
<rect x="589" y="329" width="1" height="5" fill="#fff"/>
<rect x="592" y="329" width="1" height="5" fill="#fff"/>
<rect x="595" y="329" width="1" height="5" fill="#fff"/>
<rect x="598" y="329" width="1" height="5" fill="#fff"/>
<rect x="601" y="329" width="1" height="5" fill="#fff"/>
<rect x="604" y="329" width="1" height="5" fill="#fff"/>
<rect x="607" y="329" width="1" height="5" fill="#fff"/>
<rect x="610" y="329" width="1" height="5" fill="#fff"/>
<rect x="613" y="329" width="1" height="5" fill="#fff"/>
<rect x="616" y="329" width="1" height="5" fill="#fff"/>
<rect x="619" y="329" width="1" height="5" fill="#fff"/>
<rect x="622" y="329" width="1" height="5" fill="#fff"/>
<rect x="625" y="329" width="1" height="5" fill="#fff"/>
<rect x="628" y="329" width="1" height="5" fill="#fff"/>
<rect x="631" y="329" width="1" height="5" fill="#fff"/>
<rect x="634" y="329" width="1" height="5" fill="#fff"/>
<rect x="637" y="329" width="1" height="5" fill="#fff"/>
<rect x="640" y="329" width="1" height="5" fill="#fff"/>
<rect x="643" y="329" width="1" height="5" fill="#fff"/>
<rect x="603.7" y="271.2" width="55.6" height="16.6" rx="2" fill="#fff" stroke="#000" stroke-width="2.4"/>
<text transform="translate(606.906,283.8) scale(0.7729310507897474,1)" font-size="14.099" fill="#000">B</text><text transform="translate(616.405,283.8) scale(0.7273583043590484,1)" font-size="14.099" fill="#000">A</text><text transform="translate(625.198,283.8) scale(0.7364465431475741,1)" font-size="14.099" fill="#000">N</text><text transform="translate(633.746,283.8) scale(0.8035534108357097,1)" font-size="14.099" fill="#000">K</text><text transform="translate(648.367,283.8) scale(0.7863799585101566,1)" font-size="14.099" fill="#000">0</text>
<rect x="543.8000000000001" y="288.2" width="56.300000000000004" height="17.6" rx="2" fill="#fff" stroke="#000" stroke-width="2.4"/>
<text transform="translate(547.769,301.2) scale(0.7729310507897474,1)" font-size="14.68" fill="#000">B</text><text transform="translate(557.402,301.2) scale(0.7273583043590484,1)" font-size="14.68" fill="#000">A</text><text transform="translate(566.299,301.2) scale(0.7364465431475741,1)" font-size="14.68" fill="#000">N</text><text transform="translate(574.941,301.2) scale(0.8035534108357095,1)" font-size="14.68" fill="#000">K</text><text transform="translate(589.534,301.2) scale(0.5593162951979546,1)" font-size="14.68" fill="#000">1</text>
<rect x="460.2" y="304.2" width="57.6" height="16.6" rx="2" fill="#fff" stroke="#000" stroke-width="2.4"/>
<text transform="translate(464.706,317.9) scale(0.7729310507897474,1)" font-size="14.099" fill="#000">B</text><text transform="translate(474.005,317.9) scale(0.7273583043590484,1)" font-size="14.099" fill="#000">A</text><text transform="translate(482.598,317.9) scale(0.7364465431475741,1)" font-size="14.099" fill="#000">N</text><text transform="translate(490.946,317.9) scale(0.8035534108357097,1)" font-size="14.099" fill="#000">K</text><text transform="translate(505.204,317.9) scale(0.8407199920442868,1)" font-size="14.099" fill="#000">2</text>
<rect x="401.5" y="323.2" width="54.800000000000004" height="15.6" rx="2" fill="#fff" stroke="#000" stroke-width="2.4"/>
<text transform="translate(405.534,334.8) scale(0.7729310507897476,1)" font-size="13.663" fill="#000">B</text><text transform="translate(415.06,334.8) scale(0.7273583043590482,1)" font-size="13.663" fill="#000">A</text><text transform="translate(423.902,334.8) scale(0.7364465431475742,1)" font-size="13.663" fill="#000">N</text><text transform="translate(432.506,334.8) scale(0.8035534108357095,1)" font-size="13.663" fill="#000">K</text><text transform="translate(447.151,334.8) scale(0.7928588871075627,1)" font-size="13.663" fill="#000">3</text>
<rect x="14" y="40" width="14" height="7" fill="#000"/>
<rect x="15" y="41" width="12" height="1" fill="#fff"/>
<rect x="15" y="41" width="1" height="5" fill="#fff"/>
<rect x="20" y="41" width="1" height="5" fill="#fff"/>
<rect x="26" y="41" width="1" height="5" fill="#fff"/>
<rect x="14" y="53" width="14" height="7" fill="#000"/>
<rect x="15" y="54" width="1" height="5" fill="#fff"/>
<rect x="20" y="54" width="1" height="5" fill="#fff"/>
<rect x="26" y="54" width="1" height="5" fill="#fff"/>
<rect x="72" y="41" width="19" height="7" fill="#000"/>
<rect x="78" y="42" width="1" height="5" fill="#fff"/>
<rect x="84" y="42" width="1" height="5" fill="#fff"/>
<rect x="89" y="42" width="1" height="5" fill="#fff"/>
<rect x="86" y="43" width="2" height="3" fill="#fff"/>
<rect x="16" y="98" width="26" height="7" fill="#000"/>
<rect x="17" y="99" width="1" height="5" fill="#fff"/>
<rect x="22" y="99" width="1.5" height="5" fill="#fff"/>
<rect x="28" y="99" width="1.5" height="5" fill="#fff"/>
<rect x="34" y="99" width="1" height="5" fill="#fff"/>
<rect x="40" y="99" width="1" height="5" fill="#fff"/>
<rect x="16" y="114" width="31" height="7" fill="#000"/>
<rect x="17" y="115" width="1" height="5" fill="#fff"/>
<rect x="22" y="115" width="1.5" height="5" fill="#fff"/>
<rect x="28" y="115" width="1.5" height="5" fill="#fff"/>
<rect x="34" y="115" width="1" height="5" fill="#fff"/>
<rect x="40" y="115" width="1" height="5" fill="#fff"/>
<rect x="71" y="114" width="19" height="7" fill="#000"/>
<rect x="72" y="119" width="17" height="1" fill="#fff"/>
<rect x="77" y="115" width="1" height="5" fill="#fff"/>
<rect x="83" y="115" width="1" height="5" fill="#fff"/>
<rect x="88" y="115" width="1" height="5" fill="#fff"/>
<rect x="85" y="116" width="2" height="2" fill="#fff"/>
<rect x="105" y="165" width="19" height="7" fill="#000"/>
<rect x="106" y="170" width="17" height="1" fill="#fff"/>
<rect x="111" y="166" width="1" height="5" fill="#fff"/>
<rect x="117" y="166" width="1" height="5" fill="#fff"/>
<rect x="122" y="166" width="1" height="5" fill="#fff"/>
<rect x="119" y="167" width="2" height="2" fill="#fff"/>
<polygon points="21.03,40.53 31.65,32.03 28.47,28.85 19.97,39.47" fill="#000"/>
<rect x="28.4" y="15.2" width="31.6" height="16.200000000000003" rx="2" fill="#fff" stroke="#000" stroke-width="2.4"/>
<line x1="25.6" y1="34.9" x2="30.56" y2="29.94" stroke="#fff" stroke-width="1"/>
<text transform="translate(32.451,27.7) scale(0.6917034855179185,1)" font-size="13.808" fill="#000">J</text><text transform="translate(39.285,27.7) scale(0.8407199920442868,1)" font-size="13.808" fill="#000">2</text><text transform="translate(48.092,27.7) scale(0.7928588871075626,1)" font-size="13.808" fill="#000">3</text>
<polygon points="28.46,56.75 36.11,51.7 33.14,48.32 27.14,55.25" fill="#000"/>
<rect x="33.2" y="35.400000000000006" width="32.4" height="16.200000000000003" rx="2" fill="#fff" stroke="#000" stroke-width="2.4"/>
<line x1="31.22" y1="53.0" x2="35.15" y2="49.55" stroke="#fff" stroke-width="1"/>
<text transform="translate(38.748,46.9) scale(0.6917034855179185,1)" font-size="14.099" fill="#000">J</text><text transform="translate(44.804,46.9) scale(0.8407199920442869,1)" font-size="14.099" fill="#000">2</text><text transform="translate(53.031,46.9) scale(0.8304463358107569,1)" font-size="14.099" fill="#000">4</text>
<polygon points="74.25,41.67 84.68,31.88 81.32,28.88 72.75,40.33" fill="#000"/>
<rect x="81.4" y="15.2" width="23.400000000000002" height="16.400000000000002" rx="2" fill="#fff" stroke="#000" stroke-width="2.4"/>
<line x1="78.6" y1="35.3" x2="83.47" y2="29.86" stroke="#fff" stroke-width="1"/>
<text transform="translate(83.961,27.8) scale(0.6213424110912131,1)" font-size="14.244" fill="#000">W</text><text transform="translate(96.258,27.8) scale(0.5593162951979544,1)" font-size="14.244" fill="#000">1</text>
<polygon points="93.95,73.25 111.82,76.59 112.18,70.6 94.05,71.75" fill="#000"/>
<rect x="111.4" y="66.2" width="32.2" height="15.999999999999998" rx="2" fill="#fff" stroke="#000" stroke-width="2.4"/>
<line x1="103.9" y1="73.1" x2="112.7" y2="73.63" stroke="#fff" stroke-width="1"/>
<text transform="translate(114.834,78) scale(0.7729310507897476,1)" font-size="13.663" fill="#000">B</text><text transform="translate(123.689,78) scale(0.7273583043590482,1)" font-size="13.663" fill="#000">A</text><text transform="translate(132.455,78) scale(0.7526307355376316,1)" font-size="13.663" fill="#000">T</text>
<polygon points="42.02,102.25 58.6,103.95 58.4,97.95 41.98,100.75" fill="#000"/>
<rect x="58.0" y="93.0" width="33.6" height="16.200000000000003" rx="2" fill="#fff" stroke="#000" stroke-width="2.4"/>
<line x1="51.0" y1="101.2" x2="59.2" y2="100.93" stroke="#fff" stroke-width="1"/>
<text transform="translate(64.449,106.2) scale(0.6917034855179185,1)" font-size="13.954" fill="#000">J</text><text transform="translate(70.595,106.2) scale(0.8407199920442868,1)" font-size="13.954" fill="#000">2</text><text transform="translate(78.712,106.2) scale(0.7928588871075627,1)" font-size="13.954" fill="#000">5</text>
<polygon points="31.05,121.0 28.8,138.5 34.8,138.5 32.55,121.0" fill="#000"/>
<rect x="15.299999999999999" y="138.2" width="31.5" height="16.400000000000002" rx="2" fill="#fff" stroke="#000" stroke-width="2.4"/>
<line x1="31.8" y1="130.6" x2="31.8" y2="139.2" stroke="#fff" stroke-width="1"/>
<text transform="translate(20.546,150.8) scale(0.6917034855179186,1)" font-size="14.244" fill="#000">J</text><text transform="translate(26.564,150.8) scale(0.840719992044287,1)" font-size="14.244" fill="#000">2</text><text transform="translate(34.468,150.8) scale(0.7993018054873725,1)" font-size="14.244" fill="#000">6</text>
<polygon points="80.25,121.0 78.0,138.7 84.0,138.7 81.75,121.0" fill="#000"/>
<rect x="69.3" y="138.39999999999998" width="23.200000000000003" height="16.3" rx="2" fill="#fff" stroke="#000" stroke-width="2.4"/>
<line x1="81.0" y1="130.72" x2="81.0" y2="139.4" stroke="#fff" stroke-width="1"/>
<text transform="translate(70.862,150.8) scale(0.6213424110912134,1)" font-size="14.099" fill="#000">W</text><text transform="translate(82.304,150.8) scale(0.8407199920442869,1)" font-size="14.099" fill="#000">2</text>
<polygon points="114.75,165.0 117.0,146.8 111.0,146.8 113.25,165.0" fill="#000"/>
<rect x="104.4" y="131.39999999999998" width="23.3" height="15.700000000000001" rx="2" fill="#fff" stroke="#000" stroke-width="2.4"/>
<line x1="114.0" y1="154.98" x2="114.0" y2="146.1" stroke="#fff" stroke-width="1"/>
<text transform="translate(106.461,143) scale(0.6213424110912131,1)" font-size="14.39" fill="#000">W</text><text transform="translate(117.356,143) scale(0.7928588871075626,1)" font-size="14.39" fill="#000">3</text>
<rect x="52" y="314" width="20" height="7" fill="#000"/>
<rect x="53" y="319" width="18" height="1" fill="#fff"/>
<rect x="53" y="315" width="1" height="5" fill="#fff"/>
<rect x="58" y="315" width="1" height="5" fill="#fff"/>
<rect x="64" y="315" width="1" height="5" fill="#fff"/>
<rect x="70" y="315" width="1" height="5" fill="#fff"/>
<rect x="66" y="316" width="3" height="2" fill="#fff"/>
<rect x="52" y="330" width="20" height="7" fill="#000"/>
<rect x="53" y="335" width="18" height="1" fill="#fff"/>
<rect x="53" y="331" width="1" height="5" fill="#fff"/>
<rect x="58" y="331" width="1" height="5" fill="#fff"/>
<rect x="64" y="331" width="1" height="5" fill="#fff"/>
<rect x="70" y="331" width="1" height="5" fill="#fff"/>
<rect x="66" y="332" width="3" height="2" fill="#fff"/>
<rect x="52" y="348" width="20" height="7" fill="#000"/>
<rect x="53" y="349" width="1" height="5" fill="#fff"/>
<rect x="58" y="349" width="1" height="5" fill="#fff"/>
<rect x="64" y="349" width="1" height="5" fill="#fff"/>
<rect x="70" y="349" width="1" height="5" fill="#fff"/>
<rect x="66" y="350" width="3" height="2.5" fill="#fff"/>
<rect x="52" y="391" width="20" height="7" fill="#000"/>
<rect x="53" y="392" width="1" height="5" fill="#fff"/>
<rect x="58" y="392" width="1" height="5" fill="#fff"/>
<rect x="64" y="392" width="1" height="5" fill="#fff"/>
<rect x="70" y="392" width="1" height="5" fill="#fff"/>
<rect x="66" y="393" width="3" height="2.5" fill="#fff"/>
<rect x="87" y="365" width="19" height="7" fill="#000"/>
<rect x="88" y="366" width="1" height="5" fill="#fff"/>
<rect x="93" y="366" width="1" height="5" fill="#fff"/>
<rect x="99" y="366" width="1" height="5" fill="#fff"/>
<rect x="90" y="367" width="2" height="2.5" fill="#fff"/>
<rect x="87" y="381" width="19" height="7" fill="#000"/>
<rect x="93" y="382" width="1" height="5" fill="#fff"/>
<rect x="98" y="382" width="1.5" height="5" fill="#fff"/>
<rect x="104" y="382" width="1" height="5" fill="#fff"/>
<rect x="101" y="383" width="2" height="2.5" fill="#fff"/>
<rect x="199" y="412" width="7" height="19" fill="#000"/>
<rect x="200" y="418" width="5" height="1" fill="#fff"/>
<rect x="200" y="423" width="5" height="1" fill="#fff"/>
<rect x="201" y="425.5" width="3" height="2.5" fill="#fff"/>
<rect x="200" y="429" width="5" height="1" fill="#fff"/>
<polygon points="52.4,316.87 41.21,307.37 38.26,312.01 51.6,318.13" fill="#000"/>
<rect x="21.4" y="294.09999999999997" width="22.200000000000003" height="16.5" rx="2" fill="#fff" stroke="#000" stroke-width="2.4"/>
<line x1="45.4" y1="313.3" x2="39.14" y2="309.32" stroke="#fff" stroke-width="1"/>
<text transform="translate(23.365,305.9) scale(0.6213424110912132,1)" font-size="12.646" fill="#000">W</text><text transform="translate(34.667,305.9) scale(0.830446335810757,1)" font-size="12.646" fill="#000">4</text>
<polygon points="52.0,332.55 35.4,330.3 35.4,336.3 52.0,334.05" fill="#000"/>
<rect x="12.5" y="325.5" width="23.200000000000003" height="15.999999999999998" rx="2" fill="#fff" stroke="#000" stroke-width="2.4"/>
<line x1="42.94" y1="333.3" x2="34.7" y2="333.3" stroke="#fff" stroke-width="1"/>
<text transform="translate(14.963,336.7) scale(0.6213424110912131,1)" font-size="13.372" fill="#000">W</text><text transform="translate(26.049,336.7) scale(0.7928588871075628,1)" font-size="13.372" fill="#000">5</text>
<polygon points="51.53,350.42 38.6,358.31 42.06,362.58 52.47,351.58" fill="#000"/>
<rect x="21.599999999999998" y="359.5" width="21.900000000000002" height="15.799999999999999" rx="2" fill="#fff" stroke="#000" stroke-width="2.4"/>
<line x1="45.7" y1="356.1" x2="39.79" y2="360.88" stroke="#fff" stroke-width="1"/>
<text transform="translate(23.466,371.9) scale(0.6213424110912131,1)" font-size="12.5" fill="#000">W</text><text transform="translate(35.682,371.9) scale(0.7993018054873726,1)" font-size="12.5" fill="#000">6</text>
<polygon points="52.03,393.75 36.61,390.95 36.39,396.94 51.97,395.25" fill="#000"/>
<rect x="13.6" y="386.3" width="23.3" height="15.499999999999998" rx="2" fill="#fff" stroke="#000" stroke-width="2.4"/>
<line x1="43.6" y1="394.2" x2="35.8" y2="393.92" stroke="#fff" stroke-width="1"/>
<text transform="translate(16.063,398.7) scale(0.6213424110912132,1)" font-size="13.518" fill="#000">W</text><text transform="translate(26.408,398.7) scale(0.7984568775745953,1)" font-size="13.518" fill="#000">9</text>
<polygon points="105.54,368.59 116.51,379.59 119.87,375.24 106.46,367.41" fill="#000"/>
<rect x="115.3" y="376.4" width="22.3" height="15.4" rx="2" fill="#fff" stroke="#000" stroke-width="2.4"/>
<line x1="112.6" y1="373.1" x2="118.74" y2="377.85" stroke="#fff" stroke-width="1"/>
<text transform="translate(117.062,388.5) scale(0.6213424110912131,1)" font-size="13.808" fill="#000">W</text><text transform="translate(128.324,388.5) scale(0.8269237157695417,1)" font-size="13.808" fill="#000">7</text>
<polygon points="96.25,388.0 94.0,405.6 100.0,405.6 97.75,388.0" fill="#000"/>
<rect x="84.4" y="405.3" width="22.6" height="15.1" rx="2" fill="#fff" stroke="#000" stroke-width="2.4"/>
<line x1="97.0" y1="397.66" x2="97.0" y2="406.3" stroke="#fff" stroke-width="1"/>
<text transform="translate(87.562,418) scale(0.6213424110912131,1)" font-size="14.099" fill="#000">W</text><text transform="translate(97.818,418) scale(0.7859939710567815,1)" font-size="14.099" fill="#000">8</text>
<polygon points="199.44,420.39 188.88,410.39 185.68,414.87 198.56,421.61" fill="#000"/>
<rect x="158.29999999999998" y="397.4" width="32.300000000000004" height="16.3" rx="2" fill="#fff" stroke="#000" stroke-width="2.4"/>
<line x1="192.7" y1="416.5" x2="186.71" y2="412.22" stroke="#fff" stroke-width="1"/>
<text transform="translate(161.862,409) scale(0.6213424110912131,1)" font-size="14.099" fill="#000">W</text><text transform="translate(173.249,409) scale(0.5593162951979546,1)" font-size="14.099" fill="#000">1</text><text transform="translate(180.567,409) scale(0.7863799585101566,1)" font-size="14.099" fill="#000">0</text>
<rect x="756" y="264" width="25" height="14" fill="#000"/>
<rect x="757" y="265" width="23" height="12" fill="#fff"/>
<rect x="758" y="266" width="4" height="4" fill="#000"/>
<rect x="758" y="272" width="4" height="4" fill="#000"/>
<rect x="764" y="266" width="4" height="4" fill="#000"/>
<rect x="764" y="272" width="4" height="4" fill="#000"/>
<rect x="769" y="266" width="5" height="4" fill="#000"/>
<rect x="769" y="272" width="5" height="4" fill="#000"/>
<rect x="775" y="266" width="5" height="4" fill="#000"/>
<rect x="775" y="272" width="5" height="4" fill="#000"/>
<rect x="756" y="287" width="25" height="13" fill="#000"/>
<rect x="757" y="288" width="1" height="11" fill="#fff"/>
<rect x="762.5" y="288" width="1" height="11" fill="#fff"/>
<rect x="768" y="288" width="1" height="11" fill="#fff"/>
<rect x="774" y="288" width="1" height="11" fill="#fff"/>
<rect x="757" y="293.7" width="23" height="1.2" fill="#fff"/>
<rect x="757" y="298" width="23" height="1" fill="#fff"/>
<polygon points="755.51,269.43 742.57,277.89 746.15,282.06 756.49,270.57" fill="#000"/>
<rect x="725.4000000000001" y="279.09999999999997" width="22.0" height="16.200000000000003" rx="2" fill="#fff" stroke="#000" stroke-width="2.4"/>
<line x1="749.7" y1="275.4" x2="743.83" y2="280.43" stroke="#fff" stroke-width="1"/>
<text transform="translate(728.454,291.2) scale(0.6917034855179185,1)" font-size="13.518" fill="#000">J</text><text transform="translate(735.708,291.2) scale(0.7984568775745953,1)" font-size="13.518" fill="#000">9</text>
<polygon points="767.47,299.07 756.0,307.6 759.87,311.51 768.53,300.13" fill="#000"/>
<rect x="729.4000000000001" y="308.3" width="32.6" height="16.200000000000003" rx="2" fill="#fff" stroke="#000" stroke-width="2.4"/>
<line x1="762.6" y1="304.94" x2="757.44" y2="310.05" stroke="#fff" stroke-width="1"/>
<text transform="translate(734.454,320.4) scale(0.6917034855179185,1)" font-size="13.518" fill="#000">J</text><text transform="translate(741.871,320.4) scale(0.5593162951979546,1)" font-size="13.518" fill="#000">1</text><text transform="translate(749.303,320.4) scale(0.7863799585101566,1)" font-size="13.518" fill="#000">0</text>
<rect x="700" y="374" width="78" height="13" fill="#000"/>
<rect x="706" y="375" width="1" height="11" fill="#fff"/>
<rect x="712" y="375" width="1" height="11" fill="#fff"/>
<rect x="718" y="375" width="1" height="11" fill="#fff"/>
<rect x="724" y="375" width="1" height="11" fill="#fff"/>
<rect x="730" y="375" width="1" height="11" fill="#fff"/>
<rect x="736" y="375" width="1" height="11" fill="#fff"/>
<rect x="741" y="375" width="1" height="11" fill="#fff"/>
<rect x="747" y="375" width="1" height="11" fill="#fff"/>
<rect x="753" y="375" width="1" height="11" fill="#fff"/>
<rect x="759" y="375" width="1" height="11" fill="#fff"/>
<rect x="765" y="375" width="1" height="11" fill="#fff"/>
<rect x="771" y="375" width="1" height="11" fill="#fff"/>
<rect x="776" y="375" width="1" height="11" fill="#fff"/>
<rect x="701" y="380" width="76" height="1" fill="#fff"/>
<polygon points="739.25,374.0 741.75,356.3 735.25,356.3 737.75,374.0" fill="#000"/>
<rect x="727.5" y="340.2" width="23.3" height="16.400000000000002" rx="2" fill="#fff" stroke="#000" stroke-width="2.4"/>
<line x1="738.5" y1="364.28" x2="738.5" y2="355.6" stroke="#fff" stroke-width="1"/>
<text transform="translate(731.746,351.9) scale(0.6917034855179186,1)" font-size="14.244" fill="#000">J</text><text transform="translate(738.66,351.9) scale(0.7859939710567816,1)" font-size="14.244" fill="#000">8</text>
<rect x="394" y="390" width="119" height="13" fill="#000"/>
<rect x="395.0" y="391" width="1" height="10" fill="#fff"/>
<rect x="401.11" y="391" width="1" height="10" fill="#fff"/>
<rect x="407.21" y="391" width="1" height="10" fill="#fff"/>
<rect x="413.32" y="391" width="1" height="10" fill="#fff"/>
<rect x="419.42" y="391" width="1" height="10" fill="#fff"/>
<rect x="425.53" y="391" width="1" height="10" fill="#fff"/>
<rect x="431.63" y="391" width="1" height="10" fill="#fff"/>
<rect x="437.74" y="391" width="1" height="10" fill="#fff"/>
<rect x="443.84" y="391" width="1" height="10" fill="#fff"/>
<rect x="449.95" y="391" width="1" height="10" fill="#fff"/>
<rect x="456.05" y="391" width="1" height="10" fill="#fff"/>
<rect x="462.16" y="391" width="1" height="10" fill="#fff"/>
<rect x="468.26" y="391" width="1" height="10" fill="#fff"/>
<rect x="474.37" y="391" width="1" height="10" fill="#fff"/>
<rect x="480.47" y="391" width="1" height="10" fill="#fff"/>
<rect x="486.58" y="391" width="1" height="10" fill="#fff"/>
<rect x="492.68" y="391" width="1" height="10" fill="#fff"/>
<rect x="498.79" y="391" width="1" height="10" fill="#fff"/>
<rect x="504.89" y="391" width="1" height="10" fill="#fff"/>
<rect x="511.0" y="391" width="1" height="10" fill="#fff"/>
<rect x="395" y="396" width="117" height="1" fill="#fff"/>
<rect x="395" y="400" width="117" height="1" fill="#fff"/>
<rect x="530" y="390" width="101" height="13" fill="#000"/>
<rect x="531.0" y="391" width="1" height="10" fill="#fff"/>
<rect x="537.12" y="391" width="1" height="10" fill="#fff"/>
<rect x="543.25" y="391" width="1" height="10" fill="#fff"/>
<rect x="549.38" y="391" width="1" height="10" fill="#fff"/>
<rect x="555.5" y="391" width="1" height="10" fill="#fff"/>
<rect x="561.62" y="391" width="1" height="10" fill="#fff"/>
<rect x="567.75" y="391" width="1" height="10" fill="#fff"/>
<rect x="573.88" y="391" width="1" height="10" fill="#fff"/>
<rect x="580.0" y="391" width="1" height="10" fill="#fff"/>
<rect x="586.12" y="391" width="1" height="10" fill="#fff"/>
<rect x="592.25" y="391" width="1" height="10" fill="#fff"/>
<rect x="598.38" y="391" width="1" height="10" fill="#fff"/>
<rect x="604.5" y="391" width="1" height="10" fill="#fff"/>
<rect x="610.62" y="391" width="1" height="10" fill="#fff"/>
<rect x="616.75" y="391" width="1" height="10" fill="#fff"/>
<rect x="622.88" y="391" width="1" height="10" fill="#fff"/>
<rect x="629.0" y="391" width="1" height="10" fill="#fff"/>
<rect x="531" y="396" width="99" height="1" fill="#fff"/>
<rect x="531" y="400" width="99" height="1" fill="#fff"/>
<polygon points="454.25,390.0 456.75,371.3 450.25,371.3 452.75,390.0" fill="#000"/>
<rect x="443.3" y="356.2" width="22.400000000000002" height="15.4" rx="2" fill="#fff" stroke="#000" stroke-width="2.4"/>
<line x1="453.5" y1="379.68" x2="453.5" y2="370.6" stroke="#fff" stroke-width="1"/>
<text transform="translate(447.644,367.9) scale(0.6917034855179186,1)" font-size="14.39" fill="#000">J</text><text transform="translate(454.134,367.9) scale(0.7928588871075627,1)" font-size="14.39" fill="#000">5</text>
<polygon points="581.25,390.0 583.75,371.3 577.25,371.3 579.75,390.0" fill="#000"/>
<rect x="569.2" y="356.2" width="23.6" height="15.4" rx="2" fill="#fff" stroke="#000" stroke-width="2.4"/>
<line x1="580.5" y1="379.68" x2="580.5" y2="370.6" stroke="#fff" stroke-width="1"/>
<text transform="translate(573.644,367.9) scale(0.6917034855179186,1)" font-size="14.39" fill="#000">J</text><text transform="translate(580.409,367.9) scale(0.7993018054873726,1)" font-size="14.39" fill="#000">6</text>
<line x1="444" y1="419.5" x2="639" y2="419.5" stroke="#000" stroke-width="1" stroke-dasharray="24 8" stroke-dashoffset="15"/>
<line x1="444" y1="514.5" x2="639" y2="514.5" stroke="#000" stroke-width="1" stroke-dasharray="24 8" stroke-dashoffset="13"/>
<line x1="444.5" y1="419" x2="444.5" y2="515" stroke="#000" stroke-width="1" stroke-dasharray="24 8" stroke-dashoffset="16.3"/>
<line x1="638.5" y1="419" x2="638.5" y2="515" stroke="#000" stroke-width="1" stroke-dasharray="24 8" stroke-dashoffset="9.6"/>
<rect x="448" y="424" width="186" height="8" fill="#000"/>
<rect x="449" y="425" width="184" height="6" fill="#fff"/>
<rect x="450.1" y="426" width="4.8" height="4" fill="#000"/>
<rect x="455.84" y="426" width="4.8" height="4" fill="#000"/>
<rect x="461.58" y="426" width="4.8" height="4" fill="#000"/>
<rect x="467.32" y="426" width="4.8" height="4" fill="#000"/>
<rect x="473.06" y="426" width="4.8" height="4" fill="#000"/>
<rect x="478.8" y="426" width="4.8" height="4" fill="#000"/>
<rect x="484.54" y="426" width="4.8" height="4" fill="#000"/>
<rect x="490.28" y="426" width="4.8" height="4" fill="#000"/>
<rect x="496.02" y="426" width="4.8" height="4" fill="#000"/>
<rect x="501.76" y="426" width="4.8" height="4" fill="#000"/>
<rect x="507.5" y="426" width="4.8" height="4" fill="#000"/>
<rect x="513.24" y="426" width="4.8" height="4" fill="#000"/>
<rect x="518.98" y="426" width="4.8" height="4" fill="#000"/>
<rect x="524.72" y="426" width="4.8" height="4" fill="#000"/>
<rect x="530.46" y="426" width="4.8" height="4" fill="#000"/>
<rect x="536.2" y="426" width="4.8" height="4" fill="#000"/>
<rect x="541.94" y="426" width="4.8" height="4" fill="#000"/>
<rect x="547.68" y="426" width="4.8" height="4" fill="#000"/>
<rect x="553.42" y="426" width="4.8" height="4" fill="#000"/>
<rect x="559.16" y="426" width="4.8" height="4" fill="#000"/>
<rect x="564.9" y="426" width="4.8" height="4" fill="#000"/>
<rect x="570.64" y="426" width="4.8" height="4" fill="#000"/>
<rect x="576.38" y="426" width="4.8" height="4" fill="#000"/>
<rect x="582.12" y="426" width="4.8" height="4" fill="#000"/>
<rect x="587.86" y="426" width="4.8" height="4" fill="#000"/>
<rect x="593.6" y="426" width="4.8" height="4" fill="#000"/>
<rect x="599.34" y="426" width="4.8" height="4" fill="#000"/>
<rect x="605.08" y="426" width="4.8" height="4" fill="#000"/>
<rect x="610.82" y="426" width="4.8" height="4" fill="#000"/>
<rect x="616.56" y="426" width="4.8" height="4" fill="#000"/>
<rect x="622.3" y="426" width="4.8" height="4" fill="#000"/>
<rect x="628.04" y="426" width="4.8" height="4" fill="#000"/>
<rect x="448" y="503" width="186" height="8" fill="#000"/>
<rect x="449" y="504" width="184" height="6" fill="#fff"/>
<rect x="450.1" y="505" width="4.8" height="4" fill="#000"/>
<rect x="455.84" y="505" width="4.8" height="4" fill="#000"/>
<rect x="461.58" y="505" width="4.8" height="4" fill="#000"/>
<rect x="467.32" y="505" width="4.8" height="4" fill="#000"/>
<rect x="473.06" y="505" width="4.8" height="4" fill="#000"/>
<rect x="478.8" y="505" width="4.8" height="4" fill="#000"/>
<rect x="484.54" y="505" width="4.8" height="4" fill="#000"/>
<rect x="490.28" y="505" width="4.8" height="4" fill="#000"/>
<rect x="496.02" y="505" width="4.8" height="4" fill="#000"/>
<rect x="501.76" y="505" width="4.8" height="4" fill="#000"/>
<rect x="507.5" y="505" width="4.8" height="4" fill="#000"/>
<rect x="513.24" y="505" width="4.8" height="4" fill="#000"/>
<rect x="518.98" y="505" width="4.8" height="4" fill="#000"/>
<rect x="524.72" y="505" width="4.8" height="4" fill="#000"/>
<rect x="530.46" y="505" width="4.8" height="4" fill="#000"/>
<rect x="536.2" y="505" width="4.8" height="4" fill="#000"/>
<rect x="541.94" y="505" width="4.8" height="4" fill="#000"/>
<rect x="547.68" y="505" width="4.8" height="4" fill="#000"/>
<rect x="553.42" y="505" width="4.8" height="4" fill="#000"/>
<rect x="559.16" y="505" width="4.8" height="4" fill="#000"/>
<rect x="564.9" y="505" width="4.8" height="4" fill="#000"/>
<rect x="570.64" y="505" width="4.8" height="4" fill="#000"/>
<rect x="576.38" y="505" width="4.8" height="4" fill="#000"/>
<rect x="582.12" y="505" width="4.8" height="4" fill="#000"/>
<rect x="587.86" y="505" width="4.8" height="4" fill="#000"/>
<rect x="593.6" y="505" width="4.8" height="4" fill="#000"/>
<rect x="599.34" y="505" width="4.8" height="4" fill="#000"/>
<rect x="605.08" y="505" width="4.8" height="4" fill="#000"/>
<rect x="610.82" y="505" width="4.8" height="4" fill="#000"/>
<rect x="616.56" y="505" width="4.8" height="4" fill="#000"/>
<rect x="622.3" y="505" width="4.8" height="4" fill="#000"/>
<rect x="628.04" y="505" width="4.8" height="4" fill="#000"/>
<rect x="526.2" y="458.0" width="30.6" height="16.700000000000003" rx="2" fill="#fff" stroke="#000" stroke-width="2.4"/>
<text transform="translate(529.228,470.9) scale(0.6543141079223554,1)" font-size="14.39" fill="#000">E</text><text transform="translate(537.668,470.9) scale(0.6824952167208906,1)" font-size="14.39" fill="#000">X</text><text transform="translate(546.01,470.9) scale(0.6663198713704721,1)" font-size="14.39" fill="#000">P</text>
<rect x="340" y="419" width="54" height="20" fill="#000"/>
<rect x="341" y="420" width="52" height="18" fill="#fff"/>
<rect x="345" y="424" width="6" height="10.6" fill="#000"/>
<rect x="352" y="424" width="6" height="10.6" fill="#000"/>
<rect x="360" y="424" width="6" height="10.6" fill="#000"/>
<rect x="367" y="424" width="6" height="10.6" fill="#000"/>
<rect x="375" y="424" width="6" height="10.6" fill="#000"/>
<rect x="382.5" y="424.5" width="5.5" height="9.6" fill="none" stroke="#000" stroke-width="1"/>
<polygon points="340.0,427.75 323.3,425.5 323.3,431.5 340.0,429.25" fill="#000"/>
<rect x="290.2" y="421.2" width="33.4" height="15.499999999999998" rx="2" fill="#fff" stroke="#000" stroke-width="2.4"/>
<line x1="330.88" y1="428.5" x2="322.6" y2="428.5" stroke="#fff" stroke-width="1"/>
<text transform="translate(293.522,432.8) scale(0.7392250990267831,1)" font-size="14.244" fill="#000">S</text><text transform="translate(303.682,432.8) scale(0.6213424110912131,1)" font-size="14.244" fill="#000">W</text><text transform="translate(315.058,432.8) scale(0.5593162951979544,1)" font-size="14.244" fill="#000">1</text>
<rect x="301" y="455" width="49" height="12" fill="#000"/>
<rect x="305" y="460" width="19.3" height="2" fill="#fff"/>
<rect x="327" y="460" width="20.4" height="2" fill="#fff"/>
<rect x="303.5" y="456.2" width="1" height="2" fill="#fff"/>
<rect x="309.5" y="456.2" width="1" height="2" fill="#fff"/>
<rect x="315.5" y="456.2" width="1" height="2" fill="#fff"/>
<rect x="320.7" y="456.2" width="1" height="2" fill="#fff"/>
<rect x="326.5" y="456.2" width="1" height="2" fill="#fff"/>
<rect x="332.5" y="456.2" width="1" height="2" fill="#fff"/>
<rect x="338.6" y="456.2" width="1" height="2" fill="#fff"/>
<rect x="344.6" y="456.2" width="1" height="2" fill="#fff"/>
<rect x="306.4" y="464" width="1" height="2" fill="#fff"/>
<rect x="312.4" y="464" width="1" height="2" fill="#fff"/>
<rect x="317.6" y="464" width="1" height="2" fill="#fff"/>
<rect x="323.4" y="464" width="1" height="2" fill="#fff"/>
<rect x="329.4" y="464" width="1" height="2" fill="#fff"/>
<rect x="335.5" y="464" width="1" height="2" fill="#fff"/>
<rect x="341.5" y="464" width="1" height="2" fill="#fff"/>
<rect x="347.5" y="464" width="1" height="2" fill="#fff"/>
<rect x="301" y="471" width="49" height="12" fill="#000"/>
<rect x="305" y="476" width="19.3" height="2" fill="#fff"/>
<rect x="327" y="476" width="20.4" height="2" fill="#fff"/>
<rect x="303.5" y="472.2" width="1" height="2" fill="#fff"/>
<rect x="309.5" y="472.2" width="1" height="2" fill="#fff"/>
<rect x="315.5" y="472.2" width="1" height="2" fill="#fff"/>
<rect x="320.7" y="472.2" width="1" height="2" fill="#fff"/>
<rect x="326.5" y="472.2" width="1" height="2" fill="#fff"/>
<rect x="332.5" y="472.2" width="1" height="2" fill="#fff"/>
<rect x="338.6" y="472.2" width="1" height="2" fill="#fff"/>
<rect x="344.6" y="472.2" width="1" height="2" fill="#fff"/>
<rect x="306.4" y="480" width="1" height="2" fill="#fff"/>
<rect x="312.4" y="480" width="1" height="2" fill="#fff"/>
<rect x="317.6" y="480" width="1" height="2" fill="#fff"/>
<rect x="323.4" y="480" width="1" height="2" fill="#fff"/>
<rect x="329.4" y="480" width="1" height="2" fill="#fff"/>
<rect x="335.5" y="480" width="1" height="2" fill="#fff"/>
<rect x="341.5" y="480" width="1" height="2" fill="#fff"/>
<rect x="347.5" y="480" width="1" height="2" fill="#fff"/>
<rect x="301" y="487" width="49" height="12" fill="#000"/>
<rect x="305" y="492" width="19.3" height="2" fill="#fff"/>
<rect x="327" y="492" width="20.4" height="2" fill="#fff"/>
<rect x="303.5" y="488.2" width="1" height="2" fill="#fff"/>
<rect x="309.5" y="488.2" width="1" height="2" fill="#fff"/>
<rect x="315.5" y="488.2" width="1" height="2" fill="#fff"/>
<rect x="320.7" y="488.2" width="1" height="2" fill="#fff"/>
<rect x="326.5" y="488.2" width="1" height="2" fill="#fff"/>
<rect x="332.5" y="488.2" width="1" height="2" fill="#fff"/>
<rect x="338.6" y="488.2" width="1" height="2" fill="#fff"/>
<rect x="344.6" y="488.2" width="1" height="2" fill="#fff"/>
<rect x="306.4" y="496" width="1" height="2" fill="#fff"/>
<rect x="312.4" y="496" width="1" height="2" fill="#fff"/>
<rect x="317.6" y="496" width="1" height="2" fill="#fff"/>
<rect x="323.4" y="496" width="1" height="2" fill="#fff"/>
<rect x="329.4" y="496" width="1" height="2" fill="#fff"/>
<rect x="335.5" y="496" width="1" height="2" fill="#fff"/>
<rect x="341.5" y="496" width="1" height="2" fill="#fff"/>
<rect x="347.5" y="496" width="1" height="2" fill="#fff"/>
<rect x="301" y="503" width="49" height="12" fill="#000"/>
<rect x="305" y="508" width="19.3" height="2" fill="#fff"/>
<rect x="327" y="508" width="20.4" height="2" fill="#fff"/>
<rect x="303.5" y="504.2" width="1" height="2" fill="#fff"/>
<rect x="309.5" y="504.2" width="1" height="2" fill="#fff"/>
<rect x="315.5" y="504.2" width="1" height="2" fill="#fff"/>
<rect x="320.7" y="504.2" width="1" height="2" fill="#fff"/>
<rect x="326.5" y="504.2" width="1" height="2" fill="#fff"/>
<rect x="332.5" y="504.2" width="1" height="2" fill="#fff"/>
<rect x="338.6" y="504.2" width="1" height="2" fill="#fff"/>
<rect x="344.6" y="504.2" width="1" height="2" fill="#fff"/>
<rect x="306.4" y="512" width="1" height="2" fill="#fff"/>
<rect x="312.4" y="512" width="1" height="2" fill="#fff"/>
<rect x="317.6" y="512" width="1" height="2" fill="#fff"/>
<rect x="323.4" y="512" width="1" height="2" fill="#fff"/>
<rect x="329.4" y="512" width="1" height="2" fill="#fff"/>
<rect x="335.5" y="512" width="1" height="2" fill="#fff"/>
<rect x="341.5" y="512" width="1" height="2" fill="#fff"/>
<rect x="347.5" y="512" width="1" height="2" fill="#fff"/>
<path d="M300 455 L296 458.5 V483 L292 486 L296 489 V511.5 L300 514.5" fill="none" stroke="#000" stroke-width="1"/>
<rect x="241.39999999999998" y="476.4" width="48.5" height="16.1" rx="2" fill="#fff" stroke="#000" stroke-width="2.4"/>
<text transform="translate(246.757,488.8) scale(0.6896509529199425,1)" font-size="14.099" fill="#000">V</text><text transform="translate(255.968,488.8) scale(0.6331134698860554,1)" font-size="14.099" fill="#000">R</text><text transform="translate(265.48,488.8) scale(0.7273583043590484,1)" font-size="14.099" fill="#000">A</text><text transform="translate(274.991,488.8) scale(0.6997817743998797,1)" font-size="14.099" fill="#000">M</text>
<rect x="387" y="489" width="14" height="25" fill="#000"/>
<rect x="388" y="490" width="12" height="23" fill="#fff"/>
<rect x="389" y="491" width="5" height="4" fill="#000"/>
<rect x="389" y="496" width="5" height="5" fill="#000"/>
<rect x="389" y="502" width="5" height="5" fill="#000"/>
<rect x="389" y="508" width="5" height="4" fill="#000"/>
<rect x="395" y="491" width="4" height="4" fill="#000"/>
<rect x="395" y="496" width="4" height="5" fill="#000"/>
<rect x="395" y="502" width="4" height="5" fill="#000"/>
<rect x="395" y="508" width="4" height="4" fill="#000"/>
<polygon points="394.75,489.0 397.25,470.8 390.75,470.8 393.25,489.0" fill="#000"/>
<rect x="379.4" y="455.2" width="31.200000000000003" height="15.9" rx="2" fill="#fff" stroke="#000" stroke-width="2.4"/>
<line x1="394.0" y1="478.98" x2="394.0" y2="470.1" stroke="#fff" stroke-width="1"/>
<text transform="translate(383.749,467.6) scale(0.6917034855179185,1)" font-size="13.954" fill="#000">J</text><text transform="translate(390.195,467.6) scale(0.8407199920442868,1)" font-size="13.954" fill="#000">2</text><text transform="translate(398.463,467.6) scale(0.8269237157695416,1)" font-size="13.954" fill="#000">7</text>
<rect x="747" y="470" width="31" height="7" fill="#000"/>
<rect x="748" y="475" width="29" height="1" fill="#fff"/>
<rect x="748" y="471" width="1" height="5" fill="#fff"/>
<rect x="753" y="471" width="1" height="5" fill="#fff"/>
<rect x="759" y="471" width="1" height="5" fill="#fff"/>
<rect x="765" y="471" width="1" height="5" fill="#fff"/>
<rect x="771" y="471" width="1" height="5" fill="#fff"/>
<rect x="776.5" y="471" width="1" height="5" fill="#fff"/>
<polygon points="747.42,471.88 736.31,461.88 733.21,466.43 746.58,473.12" fill="#000"/>
<rect x="715.2" y="449.2" width="22.6" height="16.3" rx="2" fill="#fff" stroke="#000" stroke-width="2.4"/>
<line x1="740.4" y1="468.0" x2="734.18" y2="463.76" stroke="#fff" stroke-width="1"/>
<text transform="translate(719.743,460.9) scale(0.6917034855179186,1)" font-size="14.535" fill="#000">J</text><text transform="translate(727.176,460.9) scale(0.5593162951979546,1)" font-size="14.535" fill="#000">1</text>
<rect x="756" y="422" width="24" height="37" fill="#000"/>
<rect x="780" y="417" width="2" height="46" fill="#000"/>
<rect x="782" y="415" width="3" height="50" fill="#000"/>
<rect x="749.5" y="430.5" width="4" height="7.5" fill="#fff" stroke="#000" stroke-width="1"/>
<rect x="753.5" y="428.5" width="2.5" height="8.5" fill="#fff" stroke="#000" stroke-width="1"/>
<rect x="749.5" y="442.2" width="4" height="7.300000000000001" fill="#fff" stroke="#000" stroke-width="1"/>
<rect x="753.5" y="443.0" width="2.5" height="8" fill="#fff" stroke="#000" stroke-width="1"/>
<rect x="753.5" y="437.5" width="2.5" height="4.5" fill="#fff" stroke="#000" stroke-width="1"/>
<rect x="754" y="430" width="1" height="1" fill="#000"/>
<rect x="754" y="444" width="1" height="1" fill="#000"/>
<rect x="754" y="432" width="1" height="1" fill="#000"/>
<rect x="754" y="446" width="1" height="1" fill="#000"/>
<rect x="754" y="434" width="1" height="1" fill="#000"/>
<rect x="754" y="448" width="1" height="1" fill="#000"/>
<rect x="644" y="487" width="112" height="24" fill="#000"/>
<rect x="645" y="488" width="110" height="22" fill="#fff"/>
<rect x="645" y="494" width="110" height="1" fill="#000"/>
<rect x="647.7" y="490" width="3.3" height="1.2" fill="#000"/>
<rect x="646.1" y="491.1" width="6.6" height="1.7" fill="#000"/>
<rect x="647.9" y="492.7" width="3" height="1.4" fill="#000"/>
<rect x="646.1" y="497" width="6.6" height="3" fill="#000"/>
<rect x="647.4" y="498" width="0.9" height="1" fill="#fff"/>
<rect x="649.2" y="498" width="0.9" height="1" fill="#fff"/>
<rect x="651.0" y="498" width="0.9" height="1" fill="#fff"/>
<rect x="656.7" y="490" width="3.3" height="1.2" fill="#000"/>
<rect x="655.1" y="491.1" width="6.6" height="1.7" fill="#000"/>
<rect x="656.9" y="492.7" width="3" height="1.4" fill="#000"/>
<rect x="655.1" y="497" width="6.6" height="3" fill="#000"/>
<rect x="656.4" y="498" width="0.9" height="1" fill="#fff"/>
<rect x="658.2" y="498" width="0.9" height="1" fill="#fff"/>
<rect x="665.7" y="490" width="3.3" height="1.2" fill="#000"/>
<rect x="664.1" y="491.1" width="6.6" height="1.7" fill="#000"/>
<rect x="665.9" y="492.7" width="3" height="1.4" fill="#000"/>
<rect x="664.1" y="497" width="6.6" height="3" fill="#000"/>
<rect x="665.4" y="498" width="0.9" height="1" fill="#fff"/>
<rect x="667.2" y="498" width="0.9" height="1" fill="#fff"/>
<rect x="669.0" y="498" width="0.9" height="1" fill="#fff"/>
<rect x="674.7" y="490" width="3.3" height="1.2" fill="#000"/>
<rect x="673.1" y="491.1" width="6.6" height="1.7" fill="#000"/>
<rect x="674.9" y="492.7" width="3" height="1.4" fill="#000"/>
<rect x="673.1" y="497" width="6.6" height="3" fill="#000"/>
<rect x="674.4" y="498" width="0.9" height="1" fill="#fff"/>
<rect x="676.2" y="498" width="0.9" height="1" fill="#fff"/>
<rect x="683.7" y="490" width="3.3" height="1.2" fill="#000"/>
<rect x="682.1" y="491.1" width="6.6" height="1.7" fill="#000"/>
<rect x="683.9" y="492.7" width="3" height="1.4" fill="#000"/>
<rect x="682.1" y="497" width="6.6" height="3" fill="#000"/>
<rect x="683.4" y="498" width="0.9" height="1" fill="#fff"/>
<rect x="685.2" y="498" width="0.9" height="1" fill="#fff"/>
<rect x="687.0" y="498" width="0.9" height="1" fill="#fff"/>
<rect x="692.7" y="490" width="3.3" height="1.2" fill="#000"/>
<rect x="691.1" y="491.1" width="6.6" height="1.7" fill="#000"/>
<rect x="692.9" y="492.7" width="3" height="1.4" fill="#000"/>
<rect x="691.1" y="497" width="6.6" height="3" fill="#000"/>
<rect x="692.4" y="498" width="0.9" height="1" fill="#fff"/>
<rect x="694.2" y="498" width="0.9" height="1" fill="#fff"/>
<rect x="701.7" y="490" width="3.3" height="1.2" fill="#000"/>
<rect x="700.1" y="491.1" width="6.6" height="1.7" fill="#000"/>
<rect x="701.9" y="492.7" width="3" height="1.4" fill="#000"/>
<rect x="700.1" y="497" width="6.6" height="3" fill="#000"/>
<rect x="701.4" y="498" width="0.9" height="1" fill="#fff"/>
<rect x="703.2" y="498" width="0.9" height="1" fill="#fff"/>
<rect x="705.0" y="498" width="0.9" height="1" fill="#fff"/>
<rect x="710.7" y="490" width="3.3" height="1.2" fill="#000"/>
<rect x="709.1" y="491.1" width="6.6" height="1.7" fill="#000"/>
<rect x="710.9" y="492.7" width="3" height="1.4" fill="#000"/>
<rect x="709.1" y="497" width="6.6" height="3" fill="#000"/>
<rect x="710.4" y="498" width="0.9" height="1" fill="#fff"/>
<rect x="712.2" y="498" width="0.9" height="1" fill="#fff"/>
<rect x="719.7" y="490" width="3.3" height="1.2" fill="#000"/>
<rect x="718.1" y="491.1" width="6.6" height="1.7" fill="#000"/>
<rect x="719.9" y="492.7" width="3" height="1.4" fill="#000"/>
<rect x="718.1" y="497" width="6.6" height="3" fill="#000"/>
<rect x="719.4" y="498" width="0.9" height="1" fill="#fff"/>
<rect x="721.2" y="498" width="0.9" height="1" fill="#fff"/>
<rect x="723.0" y="498" width="0.9" height="1" fill="#fff"/>
<rect x="728.7" y="490" width="3.3" height="1.2" fill="#000"/>
<rect x="727.1" y="491.1" width="6.6" height="1.7" fill="#000"/>
<rect x="728.9" y="492.7" width="3" height="1.4" fill="#000"/>
<rect x="727.1" y="497" width="6.6" height="3" fill="#000"/>
<rect x="728.4" y="498" width="0.9" height="1" fill="#fff"/>
<rect x="730.2" y="498" width="0.9" height="1" fill="#fff"/>
<rect x="737.7" y="490" width="3.3" height="1.2" fill="#000"/>
<rect x="736.1" y="491.1" width="6.6" height="1.7" fill="#000"/>
<rect x="737.9" y="492.7" width="3" height="1.4" fill="#000"/>
<rect x="736.1" y="497" width="6.6" height="3" fill="#000"/>
<rect x="737.4" y="498" width="0.9" height="1" fill="#fff"/>
<rect x="739.2" y="498" width="0.9" height="1" fill="#fff"/>
<rect x="741.0" y="498" width="0.9" height="1" fill="#fff"/>
<rect x="746.7" y="490" width="3.3" height="1.2" fill="#000"/>
<rect x="745.1" y="491.1" width="6.6" height="1.7" fill="#000"/>
<rect x="746.9" y="492.7" width="3" height="1.4" fill="#000"/>
<rect x="745.1" y="497" width="6.6" height="3" fill="#000"/>
<rect x="746.4" y="498" width="0.9" height="1" fill="#fff"/>
<rect x="748.2" y="498" width="0.9" height="1" fill="#fff"/>
<rect x="650.6" y="501.5" width="5.4" height="5.8" fill="none" stroke="#000" stroke-width="1"/>
<rect x="659.91" y="501.5" width="5.4" height="5.8" fill="none" stroke="#000" stroke-width="1"/>
<rect x="669.22" y="501.5" width="5.4" height="5.8" fill="none" stroke="#000" stroke-width="1"/>
<rect x="678.53" y="501.5" width="5.4" height="5.8" fill="none" stroke="#000" stroke-width="1"/>
<rect x="687.84" y="501.5" width="5.4" height="5.8" fill="none" stroke="#000" stroke-width="1"/>
<rect x="697.15" y="501.5" width="5.4" height="5.8" fill="none" stroke="#000" stroke-width="1"/>
<rect x="706.46" y="501.5" width="5.4" height="5.8" fill="none" stroke="#000" stroke-width="1"/>
<rect x="715.77" y="501.5" width="5.4" height="5.8" fill="none" stroke="#000" stroke-width="1"/>
<rect x="725.08" y="501.5" width="5.4" height="5.8" fill="none" stroke="#000" stroke-width="1"/>
<rect x="734.39" y="501.5" width="5.4" height="5.8" fill="none" stroke="#000" stroke-width="1"/>
<rect x="743.7" y="501.5" width="5.4" height="5.8" fill="none" stroke="#000" stroke-width="1"/>
<rect x="644" y="501" width="3" height="6" fill="#fff"/>
<rect x="645" y="502" width="2" height="4" fill="#000"/>
<rect x="753" y="501" width="3" height="6" fill="#fff"/>
<rect x="753" y="502" width="2" height="4" fill="#000"/>
<rect x="644" y="500.5" width="1" height="1" fill="#000"/>
<rect x="644" y="506.5" width="1" height="1" fill="#000"/>
</svg></body></html>
